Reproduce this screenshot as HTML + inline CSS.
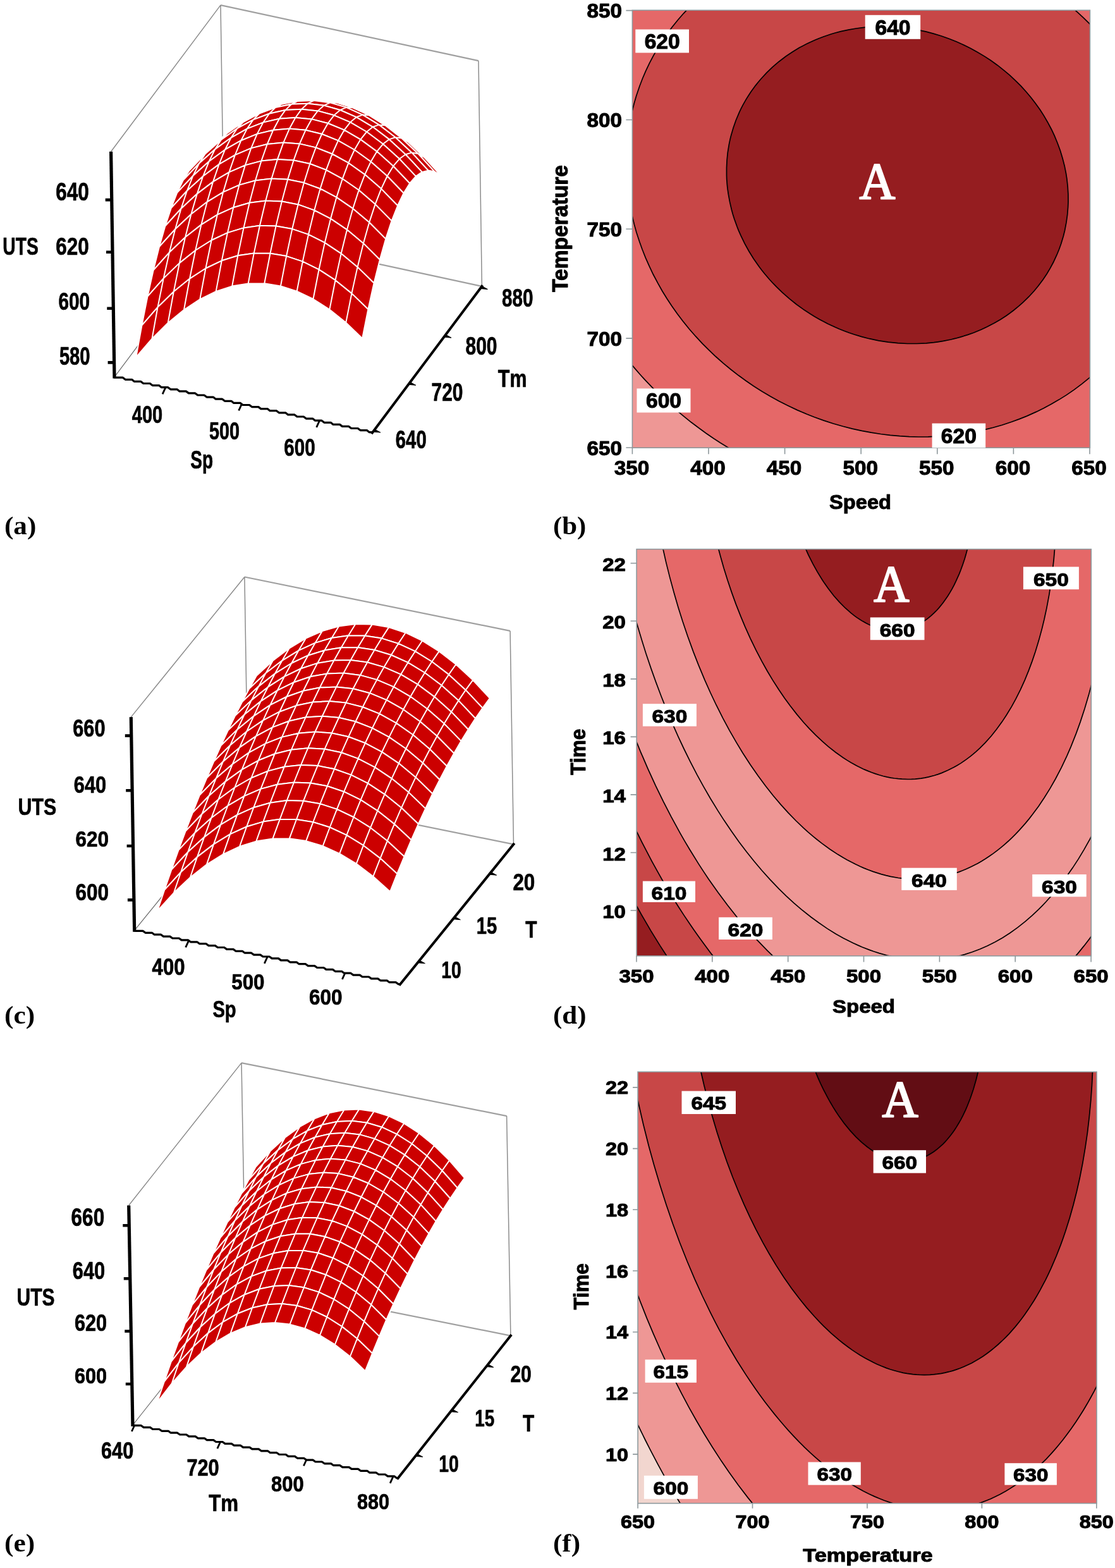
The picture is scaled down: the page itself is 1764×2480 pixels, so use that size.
<!DOCTYPE html>
<html lang="en"><head><meta charset="utf-8"><title>Figure</title>
<style>html,body{margin:0;padding:0;background:#fff}body{width:1764px;height:2480px;overflow:hidden}svg{display:block}</style>
</head><body>
<svg width="1764" height="2480" viewBox="0 0 1764 2480">
<rect width="1764" height="2480" fill="#fff"/>
<g id="panel-b">
<clipPath id="clipb"><rect x="1000.4" y="16.2" width="724" height="692"/></clipPath>
<g clip-path="url(#clipb)">
<rect x="1000.4" y="16.2" width="724" height="692" fill="#ee9795"/>
<path d="M994.4,10.2 1091.9,10.2 1081.4,21.3 1072.7,31.2 1063.4,42.8 1056.4,52.2 1048.1,64.2 1040.6,76.2 1033.7,88.2 1027.4,100.2 1021.7,112.2 1016.5,124.2 1011.9,136.2 1006.8,151.2 1003.3,163.2 999.5,178.2 996.5,193.2 994.4,205.7 994.4,10.2ZM1694.2,10.2 1732.4,10.2 1732.4,46.6 1723.3,37.2 1714.1,28.2 1704.4,19.2 1694.2,10.2ZM994.4,313.2 994.4,310.6 996.8,325.2 999.2,337.2 1002.7,352.2 1006,364.2 1009.4,375.4 1012.7,385.2 1017.1,397.2 1022,409.2 1027.3,421.2 1033,433.2 1039.2,445.2 1044.2,454.2 1051.3,466.2 1057,475.2 1063.4,484.8 1071.5,496.2 1078.4,505.4 1087.4,516.7 1095.5,526.2 1103.5,535.2 1112,544.2 1121,553.2 1130.4,562.2 1141.4,572 1151.1,580.2 1162.3,589.2 1171.4,596.1 1182.8,604.2 1192.4,610.7 1204.4,618.4 1215.8,625.2 1226.5,631.2 1243.4,640.1 1258.4,647.2 1276.4,655 1291.4,660.8 1309.4,667.1 1324.4,671.8 1340.6,676.2 1357.4,680.2 1372.4,683.2 1390.4,686.1 1408.4,688.4 1426.4,689.9 1444.4,690.8 1462.4,690.9 1480.4,690.4 1495.4,689.4 1510.4,687.9 1528.4,685.3 1545.7,682.2 1561.4,678.7 1579.4,673.9 1594.4,669.3 1609.4,664 1624.4,658.1 1639.4,651.4 1654.4,643.9 1666.8,637.2 1681.4,628.4 1695.4,619.2 1707.8,610.2 1720.4,600.2 1732.4,589.9 1732.4,715.2 1164.2,715.2 1150.4,707 1139.4,700.2 1129.4,693.7 1117,685.2 1105.4,676.8 1093.4,667.8 1081.4,658.2 1072.4,650.7 1060.4,640.2 1051.4,632 1041.1,622.2 1032.2,613.2 1021.4,601.9 1012.6,592.2 1003.4,581.6 994.4,570.7 994.4,313.2Z" fill="#e56868" fill-rule="evenodd" stroke="#e56868" stroke-width="0.6"/>
<path d="M1088.9,13.2 1091.9,10.2 1694.2,10.2 1704.4,19.2 1717.4,31.3 1732.4,46.6 1732.4,589.9 1726.4,595.2 1717.4,602.7 1702.4,614.2 1695.4,619.2 1686.4,625.2 1678.4,630.3 1669.4,635.7 1660.4,640.7 1651.4,645.5 1642.4,650 1633.4,654.1 1624.4,658.1 1615.4,661.7 1597.4,668.3 1579.4,673.9 1570.4,676.4 1558.4,679.4 1540.4,683.2 1529.3,685.2 1519.4,686.7 1501.4,688.8 1492.4,689.6 1480.4,690.4 1459.4,691 1438.4,690.6 1417.4,689.2 1396.4,687 1378.4,684.2 1357.4,680.2 1336.4,675.1 1327.4,672.6 1315.4,669 1303.4,665.1 1294.4,661.9 1276.4,655 1267.4,651.2 1256.2,646.2 1237.8,637.2 1219.4,627.3 1201.4,616.5 1183.4,604.6 1166.2,592.2 1150.4,579.7 1135.4,566.7 1121,553.2 1108.4,540.4 1095.5,526.2 1083,511.2 1071.5,496.2 1060.4,480.3 1049.5,463.2 1040.9,448.2 1033,433.2 1024.6,415.2 1018.3,400.2 1011.7,382.2 1006,364.2 1001.2,346.2 997.3,328.2 994.4,310.6 994.4,205.7 996.5,193.2 999.5,178.2 1003.3,163.2 1006.8,151.2 1009.8,142.2 1013,133.2 1016.5,124.2 1021.4,112.9 1025.9,103.2 1030.4,94.3 1035.3,85.2 1039.4,78.2 1044.3,70.2 1050.1,61.2 1056.4,52.2 1063.1,43.2 1069.4,35.2 1075.4,28.1 1081.4,21.3 1088.9,13.2ZM1369.4,43.2 1354.4,45 1342.4,47.1 1330.4,49.7 1315.4,53.8 1302.2,58.2 1288.4,63.7 1276.4,69.3 1264.4,75.6 1253.5,82.2 1243.4,89 1232.6,97.2 1222.1,106.2 1212.8,115.2 1204.4,124.2 1195.4,135.1 1188,145.2 1180.4,157.1 1175.3,166.2 1169.4,178.2 1164.3,190.2 1160.1,202.2 1156.6,214.2 1153.4,228.4 1151.3,241.2 1150.1,253.2 1149.5,265.2 1149.5,277.2 1150.4,292.2 1152.3,307.2 1154.5,319.2 1157.3,331.2 1161.7,346.2 1166,358.2 1168.4,364.3 1172.3,373.2 1178.1,385.2 1184.8,397.2 1192.2,409.2 1200.6,421.2 1209.9,433.2 1217.6,442.2 1228.4,453.7 1237.4,462.4 1248.5,472.2 1259.8,481.2 1270.4,488.9 1282.4,496.8 1294.4,504 1308,511.2 1320.6,517.2 1333.4,522.5 1345.4,527 1360.4,531.7 1373.5,535.2 1387.4,538.2 1402.4,540.7 1417.4,542.5 1432.4,543.4 1447.4,543.6 1462.4,543 1474.4,541.9 1489.4,539.9 1501.4,537.6 1513.4,534.8 1528.4,530.4 1540.4,526.2 1549.4,522.6 1561.2,517.2 1570.4,512.5 1582.4,505.6 1591.4,499.7 1600.4,493.3 1608.2,487.2 1615.4,481.1 1624.8,472.2 1633.4,463.2 1639.4,456.2 1645.7,448.2 1652.2,439.2 1658,430.2 1664.7,418.2 1669.4,408.8 1674.4,397.2 1678.4,386.3 1681.5,376.2 1684.4,365 1686.4,355.2 1688.2,343.2 1689.4,331.2 1689.9,322.2 1690,310.2 1689.4,298.2 1688.3,286.2 1686.5,274.2 1684.4,263.7 1681.9,253.2 1678.3,241.2 1675.3,232.2 1670.6,220.2 1666.4,210.7 1660.4,198.6 1654.4,187.9 1648.4,178.2 1642.4,169.2 1633.4,157.2 1626.1,148.2 1618.1,139.2 1609.4,130.2 1599.9,121.2 1591.4,113.8 1582.1,106.2 1570.4,97.6 1560.9,91.2 1551.3,85.2 1540.4,79 1528.4,72.8 1516.4,67.3 1504.4,62.4 1492.4,58 1480.4,54.2 1468.4,51 1456.4,48.2 1444.4,46 1432.4,44.2 1420.4,43 1405.4,42.1 1393.4,42 1381.4,42.3 1369.4,43.2Z" fill="#c84747" fill-rule="evenodd" stroke="#c84747" stroke-width="0.6"/>
<path d="M1369.2,43.2 1381.4,42.3 1393.4,42 1405.4,42.1 1417.4,42.7 1429.4,43.9 1441.4,45.5 1453.4,47.6 1465.4,50.2 1477.4,53.4 1489.4,57 1501.4,61.2 1513.4,66 1522.8,70.2 1535.1,76.2 1546.4,82.4 1558.4,89.6 1567.4,95.5 1578.1,103.2 1588.4,111.3 1597.4,118.9 1606.4,127.3 1615.3,136.2 1623.5,145.2 1631.1,154.2 1638,163.2 1645.4,173.6 1651.4,182.9 1657.4,193.2 1663.4,204.5 1668,214.2 1673,226.2 1677.4,238.2 1681,250.2 1684.1,262.2 1686.5,274.2 1687.9,283.2 1689.2,295.2 1689.9,307.2 1690,319.2 1689.6,328.2 1688.6,340.2 1686.9,352.2 1684.6,364.2 1682.4,373.2 1678.8,385.2 1675.6,394.2 1671.9,403.2 1666.4,415 1661.5,424.2 1656.1,433.2 1650.1,442.2 1642.4,452.5 1636,460.2 1627.8,469.2 1618.6,478.2 1611.8,484.2 1603.4,491 1592.2,499.2 1583,505.2 1573.4,510.8 1561.4,517.1 1552.4,521.3 1540.4,526.2 1531.4,529.4 1519.4,533.1 1504.4,537 1492.4,539.4 1477.4,541.6 1465.4,542.8 1450.4,543.5 1435.4,543.5 1420.4,542.7 1405.4,541.1 1390.4,538.8 1375.4,535.7 1363.4,532.6 1351.4,529 1336.4,523.7 1321.4,517.5 1309.4,511.9 1296.6,505.2 1282.4,496.8 1270.4,488.9 1259.8,481.2 1248.5,472.2 1237.4,462.4 1228.4,453.7 1217.6,442.2 1209.9,433.2 1200.6,421.2 1192.2,409.2 1184.8,397.2 1178.1,385.2 1172.3,373.2 1168.4,364.3 1166,358.2 1161.7,346.2 1157.3,331.2 1154.5,319.2 1152.3,307.2 1150.4,292.2 1149.5,277.2 1149.5,265.2 1150.1,253.2 1151.3,241.2 1153.4,228.4 1156.6,214.2 1160.1,202.2 1164.3,190.2 1169.4,178.2 1175.3,166.2 1180.4,157.1 1188,145.2 1195.4,135.1 1204.4,124.2 1212.8,115.2 1222.1,106.2 1232.6,97.2 1243.4,89 1253.5,82.2 1264.4,75.6 1276.4,69.3 1288.4,63.7 1302.2,58.2 1315.4,53.8 1330.4,49.7 1342.4,47.1 1354.4,45 1369.2,43.2Z" fill="#951d20" fill-rule="evenodd" stroke="#951d20" stroke-width="0.6"/>
<path d="M1164.2,715.2 1150.4,707 1139.4,700.2 1129.4,693.7 1117,685.2 1105.4,676.8 1093.4,667.8 1081.4,658.2 1072.4,650.7 1060.4,640.2 1051.4,632 1041.1,622.2 1032.2,613.2 1021.4,601.9 1012.6,592.2 1003.4,581.6 994.4,570.7" fill="none" stroke="#000" stroke-width="1.7"/>
<path d="M1694.2,10.2 1704.4,19.2 1714.1,28.2 1723.3,37.2 1732.4,46.6M994.4,205.7 996.5,193.2 999.5,178.2 1003.3,163.2 1006.8,151.2 1011.9,136.2 1016.5,124.2 1021.7,112.2 1027.4,100.2 1033.7,88.2 1040.6,76.2 1048.1,64.2 1056.4,52.2 1063.4,42.8 1072.7,31.2 1081.4,21.3 1091.9,10.2M1732.4,589.9 1722.8,598.2 1711.4,607.4 1699.4,616.4 1687.4,624.6 1675.4,632.1 1663.4,639.1 1651.4,645.5 1639.4,651.4 1624.4,658.1 1612.4,662.9 1600.4,667.3 1585.4,672.2 1571.3,676.2 1558.4,679.4 1543.4,682.7 1528.4,685.3 1513.4,687.5 1498.4,689.1 1483.4,690.2 1468.4,690.8 1453.4,691 1438.4,690.6 1423.4,689.7 1408.4,688.4 1393.4,686.5 1378.4,684.2 1363.4,681.4 1348.4,678.1 1333.4,674.3 1318.4,670 1303.4,665.1 1288.4,659.7 1276.4,655 1261.4,648.6 1246.4,641.5 1232,634.2 1219.4,627.3 1205.8,619.2 1192.4,610.7 1180.4,602.5 1168.4,593.8 1156.4,584.5 1144.4,574.6 1132.4,564 1121,553.2 1111.4,543.6 1100.8,532.2 1090.3,520.2 1080.6,508.2 1071.5,496.2 1063,484.2 1055.1,472.2 1047.7,460.2 1040.9,448.2 1033.4,434 1027.3,421.2 1021.4,407.9 1016,394.2 1011.7,382.2 1006.8,367.2 1003.4,354.9 999.8,340.2 996.8,325.2 994.4,310.6" fill="none" stroke="#000" stroke-width="1.7"/>
<path d="M1369.2,43.2 1381.4,42.3 1393.4,42 1405.4,42.1 1417.4,42.7 1429.4,43.9 1441.4,45.5 1453.4,47.6 1465.4,50.2 1477.4,53.4 1489.4,57 1501.4,61.2 1513.4,66 1522.8,70.2 1535.1,76.2 1546.4,82.4 1558.4,89.6 1567.4,95.5 1578.1,103.2 1588.4,111.3 1597.4,118.9 1606.4,127.3 1615.3,136.2 1623.5,145.2 1631.1,154.2 1638,163.2 1645.4,173.6 1651.4,182.9 1657.4,193.2 1663.4,204.5 1668,214.2 1673,226.2 1677.4,238.2 1681,250.2 1684.1,262.2 1686.5,274.2 1687.9,283.2 1689.2,295.2 1689.9,307.2 1690,319.2 1689.6,328.2 1688.6,340.2 1686.9,352.2 1684.6,364.2 1682.4,373.2 1678.8,385.2 1675.6,394.2 1671.9,403.2 1666.4,415 1661.5,424.2 1656.1,433.2 1650.1,442.2 1642.4,452.5 1636,460.2 1627.8,469.2 1618.6,478.2 1611.8,484.2 1603.4,491 1597.4,495.5 1592.2,499.2 1583,505.2 1573.4,510.8 1561.4,517.1 1552.4,521.3 1540.4,526.2 1531.4,529.4 1519.4,533.1 1511.8,535.2 1504.4,537 1492.4,539.4 1483.4,540.8 1477.4,541.6 1465.4,542.8 1450.4,543.5 1435.4,543.5 1420.4,542.7 1405.4,541.1 1390.4,538.8 1375.4,535.7 1363.4,532.6 1351.4,529 1343.2,526.2 1336.4,523.7 1327.6,520.2 1321.4,517.5 1309.4,511.9 1296.6,505.2 1288.4,500.5 1282.4,496.8 1270.4,488.9 1259.8,481.2 1248.5,472.2 1237.4,462.4 1228.4,453.7 1223.1,448.2 1217.6,442.2 1209.9,433.2 1205.1,427.2 1200.6,421.2 1192.2,409.2 1184.8,397.2 1178.1,385.2 1172.3,373.2 1168.4,364.3 1166,358.2 1161.7,346.2 1159.4,338.9 1157.3,331.2 1154.5,319.2 1152.3,307.2 1151,298.2 1150.4,292.2 1149.7,283.2 1149.5,277.2 1149.5,265.2 1150.1,253.2 1151.3,241.2 1153.4,228.4 1155.1,220.2 1156.6,214.2 1160.1,202.2 1164.3,190.2 1169.4,178.2 1172.2,172.2 1175.3,166.2 1180.4,157.1 1184.1,151.2 1188,145.2 1195.4,135.1 1199.3,130.2 1204.4,124.2 1212.8,115.2 1222.1,106.2 1232.6,97.2 1243.4,89 1253.5,82.2 1264.4,75.6 1276.4,69.3 1288.4,63.7 1294.4,61.2 1302.2,58.2 1315.4,53.8 1321.4,52 1330.4,49.7 1342.4,47.1 1354.4,45 1369.2,43.2" fill="none" stroke="#000" stroke-width="1.7"/>
</g>
<rect x="1000.4" y="16.2" width="724" height="692" fill="none" stroke="#8e989c" stroke-width="1.6"/>
<path d="M1000.4,708.2v10M1121,708.2v10M1241.6,708.2v10M1362.2,708.2v10M1482.8,708.2v10M1603.4,708.2v10M1724,708.2v10M1000.4,708h-10M1000.4,535.1h-10M1000.4,362.3h-10M1000.4,189.5h-10M1000.4,16.6h-10" stroke="#8e989c" stroke-width="1.6" fill="none"/>
<text transform="translate(999.4 750.5) scale(1.0400 1)" font-family='"Liberation Sans", sans-serif' font-size="32" font-weight="bold" text-anchor="middle" fill="#000" stroke="#000" stroke-width="1" stroke-linejoin="round">350</text>
<text transform="translate(1120 750.5) scale(1.0400 1)" font-family='"Liberation Sans", sans-serif' font-size="32" font-weight="bold" text-anchor="middle" fill="#000" stroke="#000" stroke-width="1" stroke-linejoin="round">400</text>
<text transform="translate(1240.6 750.5) scale(1.0400 1)" font-family='"Liberation Sans", sans-serif' font-size="32" font-weight="bold" text-anchor="middle" fill="#000" stroke="#000" stroke-width="1" stroke-linejoin="round">450</text>
<text transform="translate(1361.2 750.5) scale(1.0400 1)" font-family='"Liberation Sans", sans-serif' font-size="32" font-weight="bold" text-anchor="middle" fill="#000" stroke="#000" stroke-width="1" stroke-linejoin="round">500</text>
<text transform="translate(1481.8 750.5) scale(1.0400 1)" font-family='"Liberation Sans", sans-serif' font-size="32" font-weight="bold" text-anchor="middle" fill="#000" stroke="#000" stroke-width="1" stroke-linejoin="round">550</text>
<text transform="translate(1602.4 750.5) scale(1.0400 1)" font-family='"Liberation Sans", sans-serif' font-size="32" font-weight="bold" text-anchor="middle" fill="#000" stroke="#000" stroke-width="1" stroke-linejoin="round">600</text>
<text transform="translate(1723 750.5) scale(1.0400 1)" font-family='"Liberation Sans", sans-serif' font-size="32" font-weight="bold" text-anchor="middle" fill="#000" stroke="#000" stroke-width="1" stroke-linejoin="round">650</text>
<text transform="translate(984 719.5) scale(1.0400 1)" font-family='"Liberation Sans", sans-serif' font-size="32" font-weight="bold" text-anchor="end" fill="#000" stroke="#000" stroke-width="1" stroke-linejoin="round">650</text>
<text transform="translate(984 546.6) scale(1.0400 1)" font-family='"Liberation Sans", sans-serif' font-size="32" font-weight="bold" text-anchor="end" fill="#000" stroke="#000" stroke-width="1" stroke-linejoin="round">700</text>
<text transform="translate(984 373.8) scale(1.0400 1)" font-family='"Liberation Sans", sans-serif' font-size="32" font-weight="bold" text-anchor="end" fill="#000" stroke="#000" stroke-width="1" stroke-linejoin="round">750</text>
<text transform="translate(984 201) scale(1.0400 1)" font-family='"Liberation Sans", sans-serif' font-size="32" font-weight="bold" text-anchor="end" fill="#000" stroke="#000" stroke-width="1" stroke-linejoin="round">800</text>
<text transform="translate(984 28.1) scale(1.0400 1)" font-family='"Liberation Sans", sans-serif' font-size="32" font-weight="bold" text-anchor="end" fill="#000" stroke="#000" stroke-width="1" stroke-linejoin="round">850</text>
<text transform="translate(1361 805) scale(1.0200 1)" font-family='"Liberation Sans", sans-serif' font-size="32" font-weight="bold" text-anchor="middle" fill="#000" stroke="#000" stroke-width="1" stroke-linejoin="round">Speed</text>
<text transform="translate(897.5 361.5) rotate(-90) scale(0.9600 1)" font-family='"Liberation Sans", sans-serif' font-size="35" font-weight="bold" text-anchor="middle" fill="#000" stroke="#000" stroke-width="1" stroke-linejoin="round">Temperature</text>
<rect x="1005.3" y="46.5" width="84.7" height="37" fill="#fff"/>
<text transform="translate(1047.7 76.9) scale(1.0200 1)" font-family='"Liberation Sans", sans-serif' font-size="33" font-weight="bold" text-anchor="middle" fill="#000" stroke="#000" stroke-width="1" stroke-linejoin="round">620</text>
<rect x="1368.7" y="23.8" width="87.5" height="38" fill="#fff"/>
<text transform="translate(1412.5 54.7) scale(1.0200 1)" font-family='"Liberation Sans", sans-serif' font-size="33" font-weight="bold" text-anchor="middle" fill="#000" stroke="#000" stroke-width="1" stroke-linejoin="round">640</text>
<rect x="1007.5" y="614.5" width="85" height="38" fill="#fff"/>
<text transform="translate(1050 645.4) scale(1.0200 1)" font-family='"Liberation Sans", sans-serif' font-size="33" font-weight="bold" text-anchor="middle" fill="#000" stroke="#000" stroke-width="1" stroke-linejoin="round">600</text>
<rect x="1474.6" y="669.6" width="84.6" height="38.7" fill="#fff"/>
<text transform="translate(1516.9 700.9) scale(1.0200 1)" font-family='"Liberation Sans", sans-serif' font-size="33" font-weight="bold" text-anchor="middle" fill="#000" stroke="#000" stroke-width="1" stroke-linejoin="round">620</text>
<text transform="translate(1359.5 314) scale(0.9464 1)" font-family='"Liberation Serif", serif' font-size="83.3" font-weight="normal" text-anchor="start" fill="#fff" stroke="#fff" stroke-width="2.2" stroke-linejoin="round">A</text>
</g>
<g id="panel-d">
<clipPath id="clipd"><rect x="1007.1" y="868.6" width="719.2" height="643.3"/></clipPath>
<g clip-path="url(#clipd)">
<rect x="1007.1" y="868.6" width="719.2" height="643.3" fill="#951d20"/>
<path d="M1001.1,1303.6 1001.1,1302.5 1016.4,1333.6 1025.1,1350.5 1034.1,1367.3 1049.1,1394 1065,1420.6 1082.1,1447.6 1098.3,1471.6 1115.6,1495.6 1124.1,1506.9 1134,1519.6 1059.8,1519.6 1049.1,1503.3 1037.1,1484.2 1028.1,1469.4 1019.1,1454 1010.1,1438.2 1001.1,1421.9 1001.1,1303.6Z" fill="#c84747" fill-rule="evenodd" stroke="#c84747" stroke-width="0.6"/>
<path d="M1001.1,1159.6 1001.1,1158.7 1013.1,1188.3 1026.7,1219.6 1039.2,1246.6 1050.9,1270.6 1064.1,1296 1076.6,1318.6 1091.1,1343.5 1105.4,1366.6 1121.1,1390.4 1136,1411.6 1151.1,1431.8 1166.1,1450.7 1181.3,1468.6 1190.1,1478.5 1199.1,1488.2 1214.1,1503.6 1230.9,1519.6 1134,1519.6 1118.1,1499 1104.6,1480.6 1091.1,1461.1 1076.1,1438.4 1066.8,1423.6 1055.9,1405.6 1046.1,1388.8 1037.1,1372.8 1028.1,1356.2 1019.1,1338.9 1010.1,1321.1 1001.1,1302.5 1001.1,1159.6ZM1731.1,1474.6 1733.1,1471.7 1733.1,1519.6 1695.1,1519.6 1703.1,1510.5 1713,1498.6 1722.3,1486.6 1731.1,1474.6Z" fill="#e56868" fill-rule="evenodd" stroke="#e56868" stroke-width="0.6"/>
<path d="M1001.1,964.6 1001.1,963.1 1007.1,984.8 1013.1,1005.2 1020.1,1027.6 1027,1048.6 1034.1,1069 1040.1,1085.4 1047.8,1105.6 1055.1,1123.8 1062.6,1141.6 1070.5,1159.6 1079.1,1178.2 1088.1,1196.8 1097.1,1214.6 1106.1,1231.5 1115.1,1247.7 1124.9,1264.6 1136,1282.6 1145.1,1296.8 1155.7,1312.6 1166.1,1327.3 1175.2,1339.6 1187.1,1354.9 1196.7,1366.6 1208.1,1379.9 1217.8,1390.6 1229.2,1402.6 1241.1,1414.4 1253.1,1425.6 1265.1,1436.1 1275.5,1444.6 1286.1,1452.8 1298.1,1461.5 1313.1,1471.4 1328.1,1480.4 1343.1,1488.4 1358.1,1495.4 1373.1,1501.5 1388.1,1506.7 1403.1,1511 1418.1,1514.3 1433.1,1516.7 1448.1,1518.1 1463.1,1518.6 1478.1,1518.1 1493.1,1516.6 1502.1,1515.2 1508.1,1514 1514.1,1512.7 1523.1,1510.5 1532.1,1507.8 1538.1,1505.8 1547.1,1502.5 1553.1,1500.1 1562.1,1496 1568.1,1493.1 1574.8,1489.6 1583.1,1484.9 1595.1,1477.5 1607.8,1468.6 1615.7,1462.6 1622.1,1457.4 1634.1,1446.9 1646.1,1435.4 1658.1,1422.7 1670.1,1408.8 1682.1,1393.6 1692.9,1378.6 1703.1,1363.3 1713.9,1345.6 1724.1,1327.6 1733.1,1310.2 1733.1,1471.7 1724.1,1484.2 1715.1,1495.9 1705.6,1507.6 1695.1,1519.6 1230.9,1519.6 1214.1,1503.6 1199.1,1488.2 1184.1,1471.8 1169.1,1454.3 1154.1,1435.7 1139.1,1415.9 1124.1,1394.8 1111.2,1375.6 1097.8,1354.6 1085.1,1333.4 1071.5,1309.6 1058.1,1284.6 1046.1,1260.9 1034.1,1235.9 1022.1,1209.3 1011.1,1183.6 1001.1,1158.7 1001.1,964.6Z" fill="#ee9795" fill-rule="evenodd" stroke="#ee9795" stroke-width="0.6"/>
<path d="M1001.1,862.6 1047.7,862.6 1054.5,892.6 1061.1,918.7 1068,943.6 1076.1,970.6 1084.9,997.6 1094.1,1023.4 1103.1,1046.9 1113.7,1072.6 1124.4,1096.6 1136.1,1121 1148.1,1144.3 1159.9,1165.6 1172.1,1186.1 1184.1,1205 1196.1,1222.6 1202.6,1231.6 1211.1,1243 1221,1255.6 1232.1,1268.9 1244.1,1282.4 1255.8,1294.6 1265.1,1303.8 1277.1,1314.9 1289.1,1325.1 1301.1,1334.5 1313.1,1343.2 1325.1,1351.1 1337.1,1358.3 1349.1,1364.8 1361.1,1370.5 1373.1,1375.5 1385.1,1379.8 1397.1,1383.4 1403.1,1384.9 1412.1,1386.9 1424.1,1388.9 1433.1,1389.9 1439.1,1390.4 1451.1,1390.8 1458.6,1390.6 1466.1,1390.2 1478.1,1388.8 1485.7,1387.6 1493.1,1386.1 1505.1,1383 1511.1,1381.1 1518.3,1378.6 1526.1,1375.5 1532.1,1372.9 1544.1,1367 1555.3,1360.6 1562.1,1356.3 1568.1,1352.2 1580.1,1343.3 1591.6,1333.6 1601.1,1324.8 1613,1312.6 1622.1,1302.4 1633.2,1288.6 1643.1,1275.2 1652.1,1261.8 1661.5,1246.6 1670.1,1231.5 1679.4,1213.6 1687.9,1195.6 1694.4,1180.6 1702.7,1159.6 1709.2,1141.6 1716.1,1120.6 1722.3,1099.6 1727.9,1078.6 1733.1,1056.6 1733.1,1310.2 1727.1,1321.9 1719.1,1336.6 1712.1,1348.7 1704.8,1360.6 1697.1,1372.5 1688.7,1384.6 1682.1,1393.6 1673.1,1405.1 1662.6,1417.6 1652.1,1429.2 1640.1,1441.3 1630,1450.6 1619.1,1459.9 1607.1,1469.1 1595.1,1477.5 1583.1,1484.9 1571.1,1491.6 1559.1,1497.4 1547.1,1502.5 1535.1,1506.9 1523.1,1510.5 1511.1,1513.4 1499.1,1515.7 1492.8,1516.6 1484.1,1517.6 1472.1,1518.4 1460.1,1518.5 1448.1,1518.1 1433.1,1516.7 1418.1,1514.3 1406.1,1511.7 1391.1,1507.6 1379.1,1503.7 1365.6,1498.6 1352.1,1492.7 1339.7,1486.6 1325.1,1478.6 1313.1,1471.4 1299.8,1462.6 1286.1,1452.8 1274.1,1443.5 1261.1,1432.6 1247.1,1420.1 1232.1,1405.6 1220.1,1393.1 1208.1,1379.9 1194.2,1363.6 1181.1,1347.3 1169.1,1331.4 1157.1,1314.6 1145.1,1296.8 1133.1,1278 1121.1,1258.1 1109.4,1237.6 1099.7,1219.6 1089,1198.6 1078.8,1177.6 1067.1,1151.9 1056.3,1126.6 1046.1,1101.2 1036.5,1075.6 1027,1048.6 1018.2,1021.6 1009.9,994.6 1001.1,963.1 1001.1,862.6Z" fill="#ee9795" fill-rule="evenodd" stroke="#ee9795" stroke-width="0.6"/>
<path d="M1047.7,862.6 1135.2,862.6 1140,880.6 1145.1,898.6 1151.1,917.8 1157.8,937.6 1164.3,955.6 1172.1,975.4 1178.9,991.6 1187.1,1009.8 1196.1,1028.4 1205.1,1045.6 1214.1,1061.7 1222.4,1075.6 1232.1,1090.8 1241.1,1104 1250.1,1116.3 1260.5,1129.6 1271.1,1142.2 1280.1,1152.1 1290.4,1162.6 1301.1,1172.7 1310.2,1180.6 1322.1,1190 1334.1,1198.5 1346.1,1206 1355.1,1211 1367.1,1216.9 1379.1,1221.8 1391.1,1225.8 1403.1,1228.9 1415.1,1231 1427.1,1232.2 1436.1,1232.5 1445.1,1232.3 1454.1,1231.5 1463.1,1230.1 1472.1,1228.1 1481.1,1225.6 1490.1,1222.4 1499.1,1218.6 1508.1,1214.1 1517.1,1209 1526.1,1203 1532.2,1198.6 1541.1,1191.4 1549.8,1183.6 1556.1,1177.4 1564.2,1168.6 1571.9,1159.6 1581.1,1147.6 1586.1,1140.4 1591.3,1132.6 1600.4,1117.6 1608.5,1102.6 1616.1,1087.2 1623.8,1069.6 1630.8,1051.6 1637.1,1033.6 1643.1,1014.1 1648.4,994.6 1653.4,973.6 1657.6,952.6 1661.2,931.6 1664.6,907.6 1667.1,885.2 1669,862.6 1733.1,862.6 1733.1,1056.6 1729.4,1072.6 1725.6,1087.6 1721.5,1102.6 1717,1117.6 1712.1,1133.1 1707.1,1147.6 1702.7,1159.6 1697.1,1174 1691.1,1188.3 1685.1,1201.6 1679.1,1214.2 1673.1,1225.9 1666.7,1237.6 1659.7,1249.6 1652.3,1261.6 1646.1,1270.9 1637.8,1282.6 1630.9,1291.6 1622.1,1302.4 1613,1312.6 1604.1,1321.9 1595,1330.6 1584.6,1339.6 1574.1,1347.9 1565.1,1354.3 1555.3,1360.6 1544.8,1366.6 1535.1,1371.5 1526,1375.6 1514.1,1380.1 1505.1,1383 1493.1,1386.1 1484.1,1387.9 1472.1,1389.6 1463.1,1390.4 1451.1,1390.8 1442.1,1390.5 1430.1,1389.6 1418.1,1388 1406.1,1385.6 1394.1,1382.6 1382.1,1378.8 1373.1,1375.5 1361.1,1370.5 1349.1,1364.8 1337.1,1358.3 1325.8,1351.6 1316.1,1345.3 1304.1,1336.8 1292.2,1327.6 1281.4,1318.6 1271.1,1309.4 1261.8,1300.6 1250.1,1288.8 1238.8,1276.6 1229.1,1265.4 1220.1,1254.5 1209.2,1240.6 1199.1,1226.8 1190.1,1213.9 1181.1,1200.4 1172.1,1186.1 1163.1,1171.1 1154.1,1155.3 1145.1,1138.6 1136.1,1121 1128.6,1105.6 1121.1,1089.4 1113.7,1072.6 1106.1,1054.3 1099.1,1036.6 1092.4,1018.6 1085.1,998.1 1079.1,980 1073.1,960.9 1067.1,940.6 1061.4,919.6 1056.7,901.6 1052.1,882.4 1047.7,862.6Z" fill="#e56868" fill-rule="evenodd" stroke="#e56868" stroke-width="0.6"/>
<path d="M1135.2,862.6 1272.2,862.6 1278.9,877.6 1286.1,891.9 1293.2,904.6 1301.1,917.5 1310.1,930.6 1319.1,942.2 1328.1,952.4 1337.1,961.5 1346.1,969.4 1355.5,976.6 1364.8,982.6 1370.1,985.6 1376.1,988.5 1385.1,992.1 1394.1,994.8 1400.1,996 1406.1,996.8 1415.1,997.3 1424.1,996.7 1433.1,995.1 1442.1,992.5 1445.1,991.3 1451.2,988.6 1456.8,985.6 1460.1,983.6 1465.9,979.6 1469.1,977.2 1473.3,973.6 1478.1,969.2 1485.3,961.6 1492.6,952.6 1499.1,943.2 1506.1,931.6 1512.2,919.6 1517.6,907.6 1523.1,893 1528,877.6 1532,862.6 1669,862.6 1667.3,883.6 1665.3,901.6 1662.6,922.6 1659.8,940.6 1655.9,961.6 1652.1,979.3 1648.4,994.6 1643.5,1012.6 1638.1,1030.6 1633,1045.6 1627.4,1060.6 1621.3,1075.6 1614.5,1090.6 1607.1,1105.4 1600.4,1117.6 1592.1,1131.3 1585.3,1141.6 1576.6,1153.6 1568.1,1164.2 1558.8,1174.6 1550.1,1183.3 1539.7,1192.6 1529.1,1200.9 1520.1,1207.1 1509.1,1213.6 1499.1,1218.6 1489.6,1222.6 1484.1,1224.6 1478.1,1226.5 1469.1,1228.8 1463.1,1230.1 1457.1,1231.1 1448.1,1232.1 1442.1,1232.4 1436.1,1232.5 1427.1,1232.2 1415.1,1231 1403.1,1228.9 1391.1,1225.8 1379.1,1221.8 1367.1,1216.9 1355.1,1211 1346.1,1206 1334.1,1198.5 1322.1,1190 1310.2,1180.6 1301.1,1172.7 1290.4,1162.6 1280.1,1152.1 1271.1,1142.2 1260.5,1129.6 1250.1,1116.3 1241.1,1104 1232.1,1090.8 1222.4,1075.6 1214.1,1061.7 1205.1,1045.6 1196.1,1028.4 1187.1,1009.8 1178.9,991.6 1172.1,975.4 1164.3,955.6 1157.8,937.6 1151.1,917.8 1145.1,898.6 1140,880.6 1135.2,862.6Z" fill="#c84747" fill-rule="evenodd" stroke="#c84747" stroke-width="0.6"/>
<path d="M1272.2,862.6 1532,862.6 1528,877.6 1523.1,893 1517.6,907.6 1512.2,919.6 1506.1,931.6 1499.1,943.2 1492.6,952.6 1485.3,961.6 1478.1,969.2 1473.3,973.6 1469.1,977.2 1465.9,979.6 1460.1,983.6 1456.8,985.6 1451.2,988.6 1445.1,991.3 1442.1,992.5 1433.1,995.1 1424.1,996.7 1415.1,997.3 1406.1,996.8 1400.1,996 1394.1,994.8 1385.1,992.1 1376.1,988.5 1370.1,985.6 1364.8,982.6 1355.5,976.6 1346.1,969.4 1337.1,961.5 1328.1,952.4 1319.1,942.2 1310.1,930.6 1301.1,917.5 1293.2,904.6 1286.1,891.9 1278.9,877.6 1272.2,862.6Z" fill="#951d20" fill-rule="evenodd" stroke="#951d20" stroke-width="0.6"/>
<path d="M1059.8,1519.6 1044.2,1495.6 1029.4,1471.6 1015.4,1447.6 1001.1,1421.9" fill="none" stroke="#000" stroke-width="1.7"/>
<path d="M1134,1519.6 1124.1,1506.9 1115.6,1495.6 1106.1,1482.6 1098.3,1471.6 1091.1,1461.1 1082.1,1447.6 1073.1,1433.7 1064.1,1419.2 1055.1,1404.3 1047.1,1390.6 1040.1,1378.2 1031.1,1361.8 1016.1,1333.1 1008.9,1318.6 1001.1,1302.5" fill="none" stroke="#000" stroke-width="1.7"/>
<path d="M1733.1,1471.7 1724.1,1484.2 1715.1,1495.9 1705.6,1507.6 1695.1,1519.6M1230.9,1519.6 1223.1,1512.3 1214.1,1503.6 1199.1,1488.2 1190.1,1478.5 1181.3,1468.6 1166.1,1450.7 1151.1,1431.8 1136,1411.6 1121.1,1390.4 1113.2,1378.6 1105.4,1366.6 1091.1,1343.5 1083.4,1330.6 1076.1,1317.8 1061.8,1291.6 1049.4,1267.6 1037.1,1242.3 1025.1,1216.1 1013.1,1188.3 1001.1,1158.7" fill="none" stroke="#000" stroke-width="1.7"/>
<path d="M1733.1,1310.2 1724.1,1327.6 1715.1,1343.6 1706.1,1358.6 1697,1372.6 1686.5,1387.6 1676.1,1401.4 1665.2,1414.6 1655.1,1426 1649.1,1432.3 1643.1,1438.4 1633.3,1447.6 1622.1,1457.4 1610.1,1466.9 1598.1,1475.5 1586.1,1483.2 1574.1,1490 1562.1,1496 1550.1,1501.3 1538.1,1505.8 1526.1,1509.6 1520.1,1511.3 1511.1,1513.4 1499.1,1515.7 1492.8,1516.6 1484.1,1517.6 1472.1,1518.4 1466.1,1518.5 1457.1,1518.5 1445.1,1517.9 1436.1,1517 1430.1,1516.3 1424.1,1515.3 1415.1,1513.7 1403.1,1511 1391,1507.6 1382.1,1504.8 1376.1,1502.6 1364.1,1498 1358.1,1495.4 1349.1,1491.3 1340.1,1486.8 1334.1,1483.7 1322.1,1476.9 1308.7,1468.6 1295.1,1459.3 1283.1,1450.5 1268.1,1438.6 1256.1,1428.3 1244.1,1417.3 1232.1,1405.6 1217.8,1390.6 1205.1,1376.5 1193.1,1362.3 1181.1,1347.3 1169.1,1331.4 1157.1,1314.6 1145.6,1297.6 1136,1282.6 1124.1,1263.2 1112.8,1243.6 1102.9,1225.6 1092,1204.6 1082.1,1184.5 1073.1,1165.3 1063.9,1144.6 1055,1123.6 1046.1,1101.2 1037.6,1078.6 1030.1,1057.6 1022.1,1033.9 1015.4,1012.6 1008.2,988.6 1001.1,963.1" fill="none" stroke="#000" stroke-width="1.7"/>
<path d="M1733.1,1056.6 1727.9,1078.6 1722.3,1099.6 1716.1,1120.6 1709.2,1141.6 1702.7,1159.6 1694.4,1180.6 1687.9,1195.6 1679.4,1213.6 1670.1,1231.5 1661.5,1246.6 1652.1,1261.8 1643.1,1275.2 1633.2,1288.6 1628.1,1295.1 1622.1,1302.4 1613,1312.6 1607.1,1318.9 1601.1,1324.8 1595.1,1330.5 1589.1,1335.8 1583.1,1340.9 1577.1,1345.6 1571.1,1350.1 1565.1,1354.3 1559.1,1358.2 1553.1,1361.9 1547.1,1365.4 1541.1,1368.6 1535.1,1371.5 1529.1,1374.3 1523.1,1376.8 1517.1,1379.1 1509.6,1381.6 1502.1,1383.8 1490.1,1386.7 1484.1,1387.9 1475.1,1389.2 1463.1,1390.4 1457.1,1390.7 1448.1,1390.7 1436.1,1390.2 1430.1,1389.6 1421.1,1388.5 1409.1,1386.3 1401.7,1384.6 1394.1,1382.6 1381.5,1378.6 1373.1,1375.5 1367.1,1373.1 1361.1,1370.5 1352.8,1366.6 1340.1,1360 1334.1,1356.6 1325.8,1351.6 1313.1,1343.2 1299.9,1333.6 1292.1,1327.5 1286.1,1322.6 1277.9,1315.6 1271.3,1309.6 1259.1,1298 1247.1,1285.6 1235.1,1272.4 1223.1,1258.2 1211.1,1243 1199.1,1226.8 1187.1,1209.5 1175.1,1191 1165.2,1174.6 1154.1,1155.3 1143.5,1135.6 1133.1,1115 1124.1,1096 1115,1075.6 1105,1051.6 1096.8,1030.6 1088.1,1006.7 1079.9,982.6 1073.1,960.9 1066.3,937.6 1059.8,913.6 1053.8,889.6 1047.7,862.6" fill="none" stroke="#000" stroke-width="1.7"/>
<path d="M1669,862.6 1667.3,883.6 1665.3,901.6 1662.6,922.6 1659.8,940.6 1655.9,961.6 1652.1,979.3 1648.4,994.6 1643.5,1012.6 1638.1,1030.6 1633,1045.6 1627.4,1060.6 1621.3,1075.6 1614.5,1090.6 1607.1,1105.4 1600.4,1117.6 1592.1,1131.3 1585.3,1141.6 1576.6,1153.6 1568.1,1164.2 1558.8,1174.6 1550.1,1183.3 1544.1,1188.8 1539.7,1192.6 1535.1,1196.3 1529.1,1200.9 1520.1,1207.1 1514.1,1210.8 1509.1,1213.6 1499.1,1218.6 1489.6,1222.6 1484.1,1224.6 1478.1,1226.5 1469.1,1228.8 1463.1,1230.1 1457.1,1231.1 1448.1,1232.1 1442.1,1232.4 1436.1,1232.5 1427.1,1232.2 1421.1,1231.7 1415.1,1231 1409.1,1230.1 1403.1,1228.9 1397.1,1227.5 1391.1,1225.8 1385.1,1223.9 1379.1,1221.8 1373.1,1219.4 1367.1,1216.9 1361.1,1214.1 1355.1,1211 1346.1,1206 1340.1,1202.4 1334.1,1198.5 1322.1,1190 1310.2,1180.6 1301.1,1172.7 1290.4,1162.6 1280.1,1152.1 1271.1,1142.2 1260.5,1129.6 1250.1,1116.3 1241.1,1104 1232.1,1090.8 1222.4,1075.6 1214.1,1061.7 1205.1,1045.6 1196.1,1028.4 1187.1,1009.8 1178.9,991.6 1172.1,975.4 1164.3,955.6 1157.8,937.6 1151.1,917.8 1145.1,898.6 1140,880.6 1135.2,862.6" fill="none" stroke="#000" stroke-width="1.7"/>
<path d="M1532,862.6 1528,877.6 1526.1,884 1523.1,893 1520.1,901.3 1517.6,907.6 1512.2,919.6 1509.3,925.6 1506.1,931.6 1502.6,937.6 1499.1,943.2 1492.6,952.6 1490.1,955.8 1485.3,961.6 1481.1,966.2 1478.1,969.2 1473.3,973.6 1469.1,977.2 1465.9,979.6 1460.1,983.6 1456.8,985.6 1451.2,988.6 1445.1,991.3 1442.1,992.5 1436.1,994.4 1433.1,995.1 1430.1,995.8 1424.1,996.7 1421.1,997 1415.1,997.3 1412.1,997.2 1406.1,996.8 1400.1,996 1394.1,994.8 1385.1,992.1 1376.1,988.5 1370.1,985.6 1364.8,982.6 1361.1,980.3 1355.5,976.6 1351.4,973.6 1346.1,969.4 1337.1,961.5 1328.1,952.4 1319.1,942.2 1310.1,930.6 1304.5,922.6 1301.1,917.5 1293.2,904.6 1286.1,891.9 1278.9,877.6 1272.2,862.6" fill="none" stroke="#000" stroke-width="1.7"/>
</g>
<rect x="1007.1" y="868.6" width="719.2" height="643.3" fill="none" stroke="#8e989c" stroke-width="1.6"/>
<path d="M1007,1511.9v9.5M1126.8,1511.9v9.5M1246.7,1511.9v9.5M1366.5,1511.9v9.5M1486.4,1511.9v9.5M1606.2,1511.9v9.5M1726.1,1511.9v9.5M1007.1,1440h-9.5M1007.1,1348.5h-9.5M1007.1,1256.9h-9.5M1007.1,1165.4h-9.5M1007.1,1073.9h-9.5M1007.1,982.3h-9.5M1007.1,890.8h-9.5" stroke="#8e989c" stroke-width="1.6" fill="none"/>
<text transform="translate(1007 1553.5) scale(1.1400 1)" font-family='"Liberation Sans", sans-serif' font-size="29" font-weight="bold" text-anchor="middle" fill="#000" stroke="#000" stroke-width="1" stroke-linejoin="round">350</text>
<text transform="translate(1126.8 1553.5) scale(1.1400 1)" font-family='"Liberation Sans", sans-serif' font-size="29" font-weight="bold" text-anchor="middle" fill="#000" stroke="#000" stroke-width="1" stroke-linejoin="round">400</text>
<text transform="translate(1246.7 1553.5) scale(1.1400 1)" font-family='"Liberation Sans", sans-serif' font-size="29" font-weight="bold" text-anchor="middle" fill="#000" stroke="#000" stroke-width="1" stroke-linejoin="round">450</text>
<text transform="translate(1366.5 1553.5) scale(1.1400 1)" font-family='"Liberation Sans", sans-serif' font-size="29" font-weight="bold" text-anchor="middle" fill="#000" stroke="#000" stroke-width="1" stroke-linejoin="round">500</text>
<text transform="translate(1486.4 1553.5) scale(1.1400 1)" font-family='"Liberation Sans", sans-serif' font-size="29" font-weight="bold" text-anchor="middle" fill="#000" stroke="#000" stroke-width="1" stroke-linejoin="round">550</text>
<text transform="translate(1606.2 1553.5) scale(1.1400 1)" font-family='"Liberation Sans", sans-serif' font-size="29" font-weight="bold" text-anchor="middle" fill="#000" stroke="#000" stroke-width="1" stroke-linejoin="round">600</text>
<text transform="translate(1726.1 1553.5) scale(1.1400 1)" font-family='"Liberation Sans", sans-serif' font-size="29" font-weight="bold" text-anchor="middle" fill="#000" stroke="#000" stroke-width="1" stroke-linejoin="round">650</text>
<text transform="translate(990 1452) scale(1.1400 1)" font-family='"Liberation Sans", sans-serif' font-size="29" font-weight="bold" text-anchor="end" fill="#000" stroke="#000" stroke-width="1" stroke-linejoin="round">10</text>
<text transform="translate(990 1360.5) scale(1.1400 1)" font-family='"Liberation Sans", sans-serif' font-size="29" font-weight="bold" text-anchor="end" fill="#000" stroke="#000" stroke-width="1" stroke-linejoin="round">12</text>
<text transform="translate(990 1268.9) scale(1.1400 1)" font-family='"Liberation Sans", sans-serif' font-size="29" font-weight="bold" text-anchor="end" fill="#000" stroke="#000" stroke-width="1" stroke-linejoin="round">14</text>
<text transform="translate(990 1177.4) scale(1.1400 1)" font-family='"Liberation Sans", sans-serif' font-size="29" font-weight="bold" text-anchor="end" fill="#000" stroke="#000" stroke-width="1" stroke-linejoin="round">16</text>
<text transform="translate(990 1085.9) scale(1.1400 1)" font-family='"Liberation Sans", sans-serif' font-size="29" font-weight="bold" text-anchor="end" fill="#000" stroke="#000" stroke-width="1" stroke-linejoin="round">18</text>
<text transform="translate(990 994.3) scale(1.1400 1)" font-family='"Liberation Sans", sans-serif' font-size="29" font-weight="bold" text-anchor="end" fill="#000" stroke="#000" stroke-width="1" stroke-linejoin="round">20</text>
<text transform="translate(990 902.8) scale(1.1400 1)" font-family='"Liberation Sans", sans-serif' font-size="29" font-weight="bold" text-anchor="end" fill="#000" stroke="#000" stroke-width="1" stroke-linejoin="round">22</text>
<text transform="translate(1366.5 1602) scale(1.1000 1)" font-family='"Liberation Sans", sans-serif' font-size="30" font-weight="bold" text-anchor="middle" fill="#000" stroke="#000" stroke-width="1" stroke-linejoin="round">Speed</text>
<text transform="translate(926 1189.2) rotate(-90) scale(0.9550 1)" font-family='"Liberation Sans", sans-serif' font-size="33" font-weight="bold" text-anchor="middle" fill="#000" stroke="#000" stroke-width="1" stroke-linejoin="round">Time</text>
<rect x="1016.9" y="1113.2" width="85" height="35.5" fill="#fff"/>
<text transform="translate(1059.4 1143.4) scale(1.1300 1)" font-family='"Liberation Sans", sans-serif' font-size="29.7" font-weight="bold" text-anchor="middle" fill="#000" stroke="#000" stroke-width="1" stroke-linejoin="round">630</text>
<rect x="1016.9" y="1393.6" width="83.1" height="33.3" fill="#fff"/>
<text transform="translate(1058.5 1422.7) scale(1.1300 1)" font-family='"Liberation Sans", sans-serif' font-size="29.7" font-weight="bold" text-anchor="middle" fill="#000" stroke="#000" stroke-width="1" stroke-linejoin="round">610</text>
<rect x="1137.1" y="1450.8" width="84.8" height="35.2" fill="#fff"/>
<text transform="translate(1179.5 1480.8) scale(1.1300 1)" font-family='"Liberation Sans", sans-serif' font-size="29.7" font-weight="bold" text-anchor="middle" fill="#000" stroke="#000" stroke-width="1" stroke-linejoin="round">620</text>
<rect x="1618.9" y="896.5" width="88" height="35.7" fill="#fff"/>
<text transform="translate(1662.9 926.8) scale(1.1300 1)" font-family='"Liberation Sans", sans-serif' font-size="29.7" font-weight="bold" text-anchor="middle" fill="#000" stroke="#000" stroke-width="1" stroke-linejoin="round">650</text>
<rect x="1376.8" y="976.5" width="85.7" height="35.7" fill="#fff"/>
<text transform="translate(1419.7 1006.8) scale(1.1300 1)" font-family='"Liberation Sans", sans-serif' font-size="29.7" font-weight="bold" text-anchor="middle" fill="#000" stroke="#000" stroke-width="1" stroke-linejoin="round">660</text>
<rect x="1426.3" y="1372.7" width="87.5" height="35.2" fill="#fff"/>
<text transform="translate(1470 1402.7) scale(1.1300 1)" font-family='"Liberation Sans", sans-serif' font-size="29.7" font-weight="bold" text-anchor="middle" fill="#000" stroke="#000" stroke-width="1" stroke-linejoin="round">640</text>
<rect x="1633.2" y="1383" width="85.5" height="35.3" fill="#fff"/>
<text transform="translate(1676 1413.1) scale(1.1300 1)" font-family='"Liberation Sans", sans-serif' font-size="29.7" font-weight="bold" text-anchor="middle" fill="#000" stroke="#000" stroke-width="1" stroke-linejoin="round">630</text>
<text transform="translate(1382.3 950.8) scale(0.9500 1)" font-family='"Liberation Serif", serif' font-size="82.1" font-weight="normal" text-anchor="start" fill="#fff" stroke="#fff" stroke-width="2.2" stroke-linejoin="round">A</text>
</g>
<g id="panel-f">
<clipPath id="clipf"><rect x="1009.1" y="1695.3" width="725.9" height="682.4"/></clipPath>
<g clip-path="url(#clipf)">
<rect x="1009.1" y="1695.3" width="725.9" height="682.4" fill="#f2d6cf"/>
<path d="M1003.1,2034.3 1003.1,2032.7 1013.9,2061.3 1024.7,2088.3 1036.1,2115.2 1048.1,2142.1 1059.5,2166.3 1069.8,2187.3 1081.1,2209.3 1093.1,2231.5 1105.1,2252.7 1117.9,2274.3 1131.1,2295.3 1144.1,2315.1 1156.1,2332.4 1170.6,2352.3 1183.1,2368.6 1196.6,2385.3 1080.7,2385.3 1063.1,2356 1048.1,2329.4 1036.1,2307.2 1024.1,2284 1013.4,2262.3 1003.1,2240.8 1003.1,2034.3Z" fill="#ee9795" fill-rule="evenodd" stroke="#ee9795" stroke-width="0.6"/>
<path d="M1003.1,1713.3 1003.1,1711.6 1010.4,1746.3 1018,1779.3 1026.3,1812.3 1035.4,1845.3 1045.1,1877.7 1054.1,1905.7 1064.3,1935.3 1075.4,1965.3 1087.1,1994.8 1099.1,2023.1 1111.1,2049.5 1124.1,2076.3 1138,2103.3 1151.3,2127.3 1165.1,2150.7 1180.1,2174.4 1195.1,2196.6 1210.1,2217.2 1225.1,2236.4 1240.1,2254.3 1255.5,2271.3 1264.1,2280.3 1273.1,2289.3 1282.1,2297.8 1289.3,2304.3 1297.1,2311.1 1306.1,2318.5 1315.1,2325.6 1322.8,2331.3 1330.1,2336.5 1339.1,2342.5 1348.1,2348.2 1357.1,2353.5 1366.1,2358.4 1375.1,2362.9 1384.1,2367.1 1391.6,2370.3 1399.1,2373.2 1408.1,2376.4 1417.1,2379.3 1426.1,2381.8 1435.1,2383.9 1442.4,2385.3 1196.6,2385.3 1180.1,2364.7 1165.1,2344.9 1150.1,2323.8 1135.1,2301.5 1126.1,2287.5 1117.1,2272.9 1108.1,2257.9 1099.1,2242.3 1090.1,2226.1 1081.1,2209.3 1072.1,2191.9 1063.8,2175.3 1048.1,2142.1 1040.1,2124.3 1032.3,2106.3 1024.7,2088.3 1017.5,2070.3 1010.5,2052.3 1003.1,2032.7 1003.1,1713.3ZM1740.7,2181.3 1741.1,2180.5 1741.1,2385.3 1519.8,2385.3 1528.1,2383.6 1537.1,2381.3 1544,2379.3 1552.1,2376.6 1560.8,2373.3 1567.1,2370.7 1574.4,2367.3 1582.1,2363.4 1591.1,2358.5 1597.1,2354.9 1605.8,2349.3 1612.1,2344.9 1618.4,2340.3 1627.1,2333.5 1633.3,2328.3 1642.1,2320.4 1648.1,2314.7 1655.5,2307.3 1663.1,2299.1 1669.1,2292.4 1681.6,2277.3 1688.4,2268.3 1695,2259.3 1701.2,2250.3 1707.1,2241.3 1718.2,2223.3 1729.1,2204 1735.1,2192.5 1740.7,2181.3Z" fill="#e56868" fill-rule="evenodd" stroke="#e56868" stroke-width="0.6"/>
<path d="M1003.1,1689.3 1107.6,1689.3 1113.8,1716.3 1120.1,1741.1 1126.5,1764.3 1134.5,1791.3 1142.3,1815.3 1150.1,1837.7 1159.1,1861.7 1168.1,1884 1177.1,1904.9 1186.1,1924.4 1195.9,1944.3 1207.1,1965.6 1217.1,1983.3 1228.1,2001.6 1240.1,2020.2 1252.1,2037.4 1264.1,2053.3 1276.1,2068.1 1288.6,2082.3 1297.1,2091.3 1303,2097.3 1315.1,2108.8 1327.1,2119.2 1333.1,2124 1341.4,2130.3 1354.1,2139.1 1360.1,2143 1369.1,2148.3 1381.1,2154.6 1393.7,2160.3 1402.1,2163.6 1408.1,2165.7 1420.5,2169.3 1429.1,2171.3 1435.1,2172.4 1444.1,2173.6 1450.1,2174.2 1462.1,2174.6 1471.1,2174.4 1477.1,2173.9 1489.1,2172.3 1501.1,2169.7 1513.1,2166.1 1519.1,2164 1525.1,2161.5 1531.1,2158.8 1537.1,2155.9 1543.1,2152.6 1549.1,2149 1555.1,2145.2 1561.1,2141 1571.2,2133.3 1582.1,2123.8 1588.1,2118.1 1593.8,2112.3 1603.1,2102.1 1609.1,2095 1614.4,2088.3 1624.1,2075 1633.1,2061.5 1642.1,2046.6 1650.5,2031.3 1657.1,2018.2 1664.9,2001.3 1672.1,1984.4 1678.3,1968.3 1684.7,1950.3 1690.5,1932.3 1696.1,1913 1702.1,1890 1708.2,1863.3 1711.2,1848.3 1713.9,1833.3 1718.3,1806.3 1721.9,1779.3 1725,1749.3 1727.3,1719.3 1728.8,1689.3 1741.1,1689.3 1741.1,2180.5 1732.1,2198.3 1723.1,2214.8 1714.1,2230.2 1703.2,2247.3 1693.1,2261.9 1681.6,2277.3 1671.7,2289.3 1660.1,2302.4 1648.1,2314.7 1636.1,2325.8 1624.1,2335.9 1612.1,2344.9 1600.1,2353 1591.4,2358.3 1585.1,2361.8 1573.1,2367.9 1567.1,2370.7 1558.1,2374.4 1549.1,2377.6 1540.1,2380.5 1531.1,2382.9 1519.8,2385.3 1442.4,2385.3 1432.1,2383.2 1423.1,2381 1414.1,2378.4 1402.1,2374.3 1391.6,2370.3 1381.1,2365.7 1371.8,2361.3 1360.1,2355.1 1350,2349.3 1339.1,2342.5 1330.1,2336.5 1318.7,2328.3 1309.1,2320.9 1300.1,2313.6 1289.3,2304.3 1279.4,2295.3 1267.1,2283.3 1255.1,2270.9 1243.1,2257.7 1231.1,2243.7 1219.1,2228.9 1207.9,2214.3 1197,2199.3 1186.1,2183.5 1174.9,2166.3 1165.1,2150.7 1154.8,2133.3 1144.1,2114.5 1134.8,2097.3 1124.1,2076.3 1114.1,2055.9 1105.5,2037.3 1096.1,2016.2 1087.1,1994.8 1078.1,1972.3 1069.8,1950.3 1062.2,1929.3 1054,1905.3 1046.2,1881.3 1038.9,1857.3 1030.4,1827.3 1022.5,1797.3 1015.1,1767.1 1007.8,1734.3 1003.1,1711.6 1003.1,1689.3Z" fill="#c84747" fill-rule="evenodd" stroke="#c84747" stroke-width="0.6"/>
<path d="M1107.6,1689.3 1287.8,1689.3 1294.1,1704.6 1302.3,1722.3 1309.1,1735.4 1318.1,1751.1 1327.1,1765.1 1336.1,1777.4 1345.1,1788.4 1354.1,1798.1 1363.1,1806.7 1372.1,1814 1378.1,1818.4 1382.6,1821.3 1387.1,1824 1393.1,1827.1 1402.1,1831 1408.1,1833 1414.1,1834.6 1423.1,1836.1 1432.1,1836.6 1437.8,1836.3 1441.1,1836 1447.1,1834.9 1450.1,1834.2 1453.4,1833.3 1459.1,1831.3 1462.1,1830.1 1468.1,1827.2 1473.1,1824.3 1477.1,1821.7 1481.7,1818.3 1486.1,1814.7 1492,1809.3 1495.1,1806.1 1502.7,1797.3 1507.1,1791.5 1510.1,1787.2 1516.9,1776.3 1523.4,1764.3 1527.7,1755.3 1530.3,1749.3 1535,1737.3 1540.1,1722.3 1544.4,1707.3 1548.7,1689.3 1728.8,1689.3 1727.1,1722.3 1724.7,1752.3 1721.5,1782.3 1717.4,1812.3 1715,1827.3 1712.3,1842.3 1706.9,1869.3 1700.5,1896.3 1696.6,1911.3 1693.1,1923.6 1689.5,1935.3 1684.7,1950.3 1680.5,1962.3 1676,1974.3 1671.3,1986.3 1666.3,1998.3 1660.9,2010.3 1656.6,2019.3 1651.1,2030.1 1645.1,2041.3 1639.1,2051.7 1633.2,2061.3 1627.1,2070.6 1621.1,2079.3 1615.1,2087.4 1609.1,2095 1602.1,2103.3 1594.1,2112 1587.9,2118.3 1579.1,2126.5 1571.2,2133.3 1563.4,2139.3 1555.1,2145.2 1546.1,2150.9 1540,2154.3 1531.1,2158.8 1522.1,2162.8 1513.1,2166.1 1504.1,2168.9 1495.1,2171.1 1486.1,2172.8 1477.1,2173.9 1468.1,2174.5 1459.1,2174.6 1450.1,2174.2 1441.1,2173.3 1432.1,2171.8 1420.5,2169.3 1411.1,2166.6 1402.1,2163.6 1393.1,2160.1 1384.1,2156.1 1375.1,2151.6 1366.1,2146.6 1357.1,2141.1 1348.1,2135.1 1339.1,2128.6 1330.1,2121.6 1321.1,2114.1 1312.1,2106 1303.1,2097.4 1294.1,2088.2 1285.1,2078.5 1276.1,2068.1 1268.1,2058.3 1261.1,2049.4 1252.1,2037.4 1243.6,2025.3 1235.6,2013.3 1228.1,2001.6 1220.6,1989.3 1213.1,1976.4 1205.3,1962.3 1198.1,1948.7 1191.4,1935.3 1184.2,1920.3 1177.3,1905.3 1171.1,1891.1 1165.1,1876.8 1158.6,1860.3 1152.9,1845.3 1146.4,1827.3 1141.1,1811.7 1135.5,1794.3 1130,1776.3 1125.6,1761.3 1120.7,1743.3 1116.1,1725.3 1111.7,1707.3 1107.6,1689.3Z" fill="#951d20" fill-rule="evenodd" stroke="#951d20" stroke-width="0.6"/>
<path d="M1287.8,1689.3 1548.7,1689.3 1544.4,1707.3 1540.1,1722.3 1535,1737.3 1530.3,1749.3 1527.7,1755.3 1523.4,1764.3 1516.9,1776.3 1510.1,1787.2 1507.1,1791.5 1502.7,1797.3 1495.1,1806.1 1492,1809.3 1486.1,1814.7 1481.7,1818.3 1477.1,1821.7 1473.1,1824.3 1468.1,1827.2 1462.1,1830.1 1459.1,1831.3 1453.4,1833.3 1450.1,1834.2 1447.1,1834.9 1441.1,1836 1437.8,1836.3 1432.1,1836.6 1423.1,1836.1 1414.1,1834.6 1408.1,1833 1402.1,1831 1393.1,1827.1 1387.1,1824 1382.6,1821.3 1378.1,1818.4 1372.1,1814 1363.1,1806.7 1354.1,1798.1 1345.1,1788.4 1336.1,1777.4 1327.1,1765.1 1318.1,1751.1 1309.1,1735.4 1302.3,1722.3 1294.1,1704.6 1287.8,1689.3Z" fill="#620d14" fill-rule="evenodd" stroke="#620d14" stroke-width="0.6"/>
<path d="M1080.7,2385.3 1069.8,2367.3 1060.1,2350.8 1051.1,2334.9 1041,2316.3 1030.1,2295.7 1021.1,2278 1012.1,2259.7 1003.1,2240.8" fill="none" stroke="#000" stroke-width="1.7"/>
<path d="M1196.6,2385.3 1183.1,2368.6 1168.1,2349 1153.2,2328.3 1141.1,2310.6 1127.3,2289.3 1114.3,2268.3 1102.1,2247.5 1090.2,2226.3 1078.1,2203.6 1066.8,2181.3 1056.6,2160.3 1045.1,2135.5 1033.6,2109.3 1023.5,2085.3 1012.8,2058.3 1003.1,2032.7" fill="none" stroke="#000" stroke-width="1.7"/>
<path d="M1741.1,2180.5 1731.6,2199.3 1726.1,2209.5 1720,2220.3 1714.1,2230.2 1708.1,2239.8 1702.1,2249 1695,2259.3 1688.4,2268.3 1681.6,2277.3 1675.1,2285.3 1669.1,2292.4 1663.1,2299.1 1655.5,2307.3 1648.1,2314.7 1642.1,2320.4 1633.3,2328.3 1627.1,2333.5 1618.4,2340.3 1612.1,2344.9 1605.8,2349.3 1597.1,2354.9 1591.1,2358.5 1582.1,2363.4 1574.4,2367.3 1567.1,2370.7 1560.8,2373.3 1552.1,2376.6 1544,2379.3 1537.1,2381.3 1528.1,2383.6 1519.8,2385.3M1442.4,2385.3 1435.1,2383.9 1426.1,2381.8 1417.1,2379.3 1408.1,2376.4 1399.1,2373.2 1391.6,2370.3 1384.1,2367.1 1375.1,2362.9 1366.1,2358.4 1357.1,2353.5 1348.1,2348.2 1339.1,2342.5 1330.1,2336.5 1322.8,2331.3 1315.1,2325.6 1306.1,2318.5 1297.1,2311.1 1289.3,2304.3 1282.1,2297.8 1273.1,2289.3 1264.1,2280.3 1255.5,2271.3 1247.2,2262.3 1240.1,2254.3 1231.6,2244.3 1225.1,2236.4 1217.1,2226.3 1210.1,2217.2 1201.3,2205.3 1195.1,2196.6 1186.7,2184.3 1180.1,2174.4 1173,2163.3 1165.1,2150.7 1151.3,2127.3 1138,2103.3 1131.7,2091.3 1124.1,2076.3 1111.1,2049.5 1099.1,2023.1 1087.1,1994.8 1075.1,1964.5 1064.3,1935.3 1054,1905.3 1044.4,1875.3 1034.6,1842.3 1026.3,1812.3 1018,1779.3 1010.4,1746.3 1003.1,1711.6" fill="none" stroke="#000" stroke-width="1.7"/>
<path d="M1728.8,1689.3 1727.5,1716.3 1725.8,1740.3 1723.2,1767.3 1720.4,1791.3 1716.9,1815.3 1712.9,1839.3 1708.2,1863.3 1703.5,1884.3 1698.2,1905.3 1692.3,1926.3 1685.7,1947.3 1681.6,1959.3 1678.1,1968.9 1671.3,1986.3 1663.1,2005.4 1658,2016.3 1654.1,2024.3 1645.6,2040.3 1640.5,2049.3 1636.1,2056.7 1627.1,2070.6 1621.1,2079.3 1616.7,2085.3 1612.1,2091.2 1606.1,2098.6 1596.7,2109.3 1591.1,2115.1 1585.1,2121 1579.1,2126.5 1573.1,2131.7 1567.1,2136.5 1561.1,2141 1555.1,2145.2 1549.1,2149 1543.1,2152.6 1537.1,2155.9 1531.1,2158.8 1525.1,2161.5 1519.1,2164 1513.1,2166.1 1507.1,2168.1 1501.1,2169.7 1495.1,2171.1 1489.1,2172.3 1483.1,2173.2 1477.1,2173.9 1471.1,2174.4 1462.1,2174.6 1456.1,2174.5 1450.1,2174.2 1444.1,2173.6 1435.1,2172.4 1429.1,2171.3 1420.5,2169.3 1414.1,2167.5 1408.1,2165.7 1402.1,2163.6 1393.7,2160.3 1387.1,2157.5 1381.1,2154.6 1369.1,2148.3 1360.1,2143 1354.1,2139.1 1348.1,2135.1 1341.4,2130.3 1333.1,2124 1327.1,2119.2 1315.1,2108.8 1303,2097.3 1297.1,2091.3 1288.6,2082.3 1276.1,2068.1 1264.1,2053.3 1252.1,2037.4 1240.1,2020.2 1228.1,2001.6 1217.1,1983.3 1207.1,1965.6 1195.9,1944.3 1186.1,1924.4 1177.1,1904.9 1168.1,1884 1159.1,1861.7 1150.1,1837.7 1142.3,1815.3 1134.5,1791.3 1126.5,1764.3 1120.1,1741.1 1113.8,1716.3 1107.6,1689.3" fill="none" stroke="#000" stroke-width="1.7"/>
<path d="M1548.7,1689.3 1546.6,1698.3 1544.4,1707.3 1540.1,1722.3 1537.1,1731.3 1535,1737.3 1530.3,1749.3 1527.7,1755.3 1523.4,1764.3 1520.3,1770.3 1516.9,1776.3 1513.1,1782.6 1510.1,1787.2 1507.1,1791.5 1502.7,1797.3 1498.1,1802.8 1495.1,1806.1 1492,1809.3 1486.1,1814.7 1481.7,1818.3 1477.1,1821.7 1473.1,1824.3 1468.1,1827.2 1462.1,1830.1 1459.1,1831.3 1453.4,1833.3 1450.1,1834.2 1447.1,1834.9 1441.1,1836 1437.8,1836.3 1432.1,1836.6 1426.1,1836.4 1423.1,1836.1 1420.1,1835.7 1414.1,1834.6 1408.1,1833 1402.1,1831 1399.1,1829.8 1393.1,1827.1 1387.1,1824 1382.6,1821.3 1378.1,1818.4 1372.1,1814 1363.1,1806.7 1354.1,1798.1 1345.1,1788.4 1336.1,1777.4 1327.1,1765.1 1322.6,1758.3 1318.1,1751.1 1313.5,1743.3 1309.1,1735.4 1302.3,1722.3 1298,1713.3 1294.1,1704.6 1287.8,1689.3" fill="none" stroke="#000" stroke-width="1.7"/>
</g>
<rect x="1009.1" y="1695.3" width="725.9" height="682.4" fill="none" stroke="#8e989c" stroke-width="1.6"/>
<path d="M1009.1,2377.7v8M1190.5,2377.7v8M1372,2377.7v8M1553.4,2377.7v8M1734.8,2377.7v8M1009.1,2300.1h-8M1009.1,2203.4h-8M1009.1,2106.7h-8M1009.1,2010h-8M1009.1,1913.3h-8M1009.1,1816.6h-8M1009.1,1719.9h-8" stroke="#8e989c" stroke-width="1.6" fill="none"/>
<text transform="translate(1009.1 2416.5) scale(1.1000 1)" font-family='"Liberation Sans", sans-serif' font-size="29.5" font-weight="bold" text-anchor="middle" fill="#000" stroke="#000" stroke-width="1" stroke-linejoin="round">650</text>
<text transform="translate(1190.5 2416.5) scale(1.1000 1)" font-family='"Liberation Sans", sans-serif' font-size="29.5" font-weight="bold" text-anchor="middle" fill="#000" stroke="#000" stroke-width="1" stroke-linejoin="round">700</text>
<text transform="translate(1372 2416.5) scale(1.1000 1)" font-family='"Liberation Sans", sans-serif' font-size="29.5" font-weight="bold" text-anchor="middle" fill="#000" stroke="#000" stroke-width="1" stroke-linejoin="round">750</text>
<text transform="translate(1553.4 2416.5) scale(1.1000 1)" font-family='"Liberation Sans", sans-serif' font-size="29.5" font-weight="bold" text-anchor="middle" fill="#000" stroke="#000" stroke-width="1" stroke-linejoin="round">800</text>
<text transform="translate(1734.8 2416.5) scale(1.1000 1)" font-family='"Liberation Sans", sans-serif' font-size="29.5" font-weight="bold" text-anchor="middle" fill="#000" stroke="#000" stroke-width="1" stroke-linejoin="round">850</text>
<text transform="translate(994 2310.6) scale(1.1000 1)" font-family='"Liberation Sans", sans-serif' font-size="29.5" font-weight="bold" text-anchor="end" fill="#000" stroke="#000" stroke-width="1" stroke-linejoin="round">10</text>
<text transform="translate(994 2213.9) scale(1.1000 1)" font-family='"Liberation Sans", sans-serif' font-size="29.5" font-weight="bold" text-anchor="end" fill="#000" stroke="#000" stroke-width="1" stroke-linejoin="round">12</text>
<text transform="translate(994 2117.2) scale(1.1000 1)" font-family='"Liberation Sans", sans-serif' font-size="29.5" font-weight="bold" text-anchor="end" fill="#000" stroke="#000" stroke-width="1" stroke-linejoin="round">14</text>
<text transform="translate(994 2020.5) scale(1.1000 1)" font-family='"Liberation Sans", sans-serif' font-size="29.5" font-weight="bold" text-anchor="end" fill="#000" stroke="#000" stroke-width="1" stroke-linejoin="round">16</text>
<text transform="translate(994 1923.8) scale(1.1000 1)" font-family='"Liberation Sans", sans-serif' font-size="29.5" font-weight="bold" text-anchor="end" fill="#000" stroke="#000" stroke-width="1" stroke-linejoin="round">18</text>
<text transform="translate(994 1827.1) scale(1.1000 1)" font-family='"Liberation Sans", sans-serif' font-size="29.5" font-weight="bold" text-anchor="end" fill="#000" stroke="#000" stroke-width="1" stroke-linejoin="round">20</text>
<text transform="translate(994 1730.4) scale(1.1000 1)" font-family='"Liberation Sans", sans-serif' font-size="29.5" font-weight="bold" text-anchor="end" fill="#000" stroke="#000" stroke-width="1" stroke-linejoin="round">22</text>
<text transform="translate(1373 2470) scale(1.1450 1)" font-family='"Liberation Sans", sans-serif' font-size="30" font-weight="bold" text-anchor="middle" fill="#000" stroke="#000" stroke-width="1" stroke-linejoin="round">Temperature</text>
<text transform="translate(930.5 2034.8) rotate(-90) scale(0.9600 1)" font-family='"Liberation Sans", sans-serif' font-size="33" font-weight="bold" text-anchor="middle" fill="#000" stroke="#000" stroke-width="1" stroke-linejoin="round">Time</text>
<rect x="1078.5" y="1725.6" width="85.5" height="36.4" fill="#fff"/>
<text transform="translate(1121.2 1755.2) scale(1.1000 1)" font-family='"Liberation Sans", sans-serif' font-size="30.3" font-weight="bold" text-anchor="middle" fill="#000" stroke="#000" stroke-width="1" stroke-linejoin="round">645</text>
<rect x="1020.6" y="2150.4" width="81.3" height="36.4" fill="#fff"/>
<text transform="translate(1061.2 2180) scale(1.1000 1)" font-family='"Liberation Sans", sans-serif' font-size="30.3" font-weight="bold" text-anchor="middle" fill="#000" stroke="#000" stroke-width="1" stroke-linejoin="round">615</text>
<rect x="1018.9" y="2333.9" width="85" height="36.9" fill="#fff"/>
<text transform="translate(1061.4 2363.8) scale(1.1000 1)" font-family='"Liberation Sans", sans-serif' font-size="30.3" font-weight="bold" text-anchor="middle" fill="#000" stroke="#000" stroke-width="1" stroke-linejoin="round">600</text>
<rect x="1278.5" y="2312.5" width="83.3" height="36.2" fill="#fff"/>
<text transform="translate(1320.2 2342) scale(1.1000 1)" font-family='"Liberation Sans", sans-serif' font-size="30.3" font-weight="bold" text-anchor="middle" fill="#000" stroke="#000" stroke-width="1" stroke-linejoin="round">630</text>
<rect x="1381.7" y="1819.2" width="83.3" height="36.2" fill="#fff"/>
<text transform="translate(1423.3 1848.7) scale(1.1000 1)" font-family='"Liberation Sans", sans-serif' font-size="30.3" font-weight="bold" text-anchor="middle" fill="#000" stroke="#000" stroke-width="1" stroke-linejoin="round">660</text>
<rect x="1589.4" y="2314.2" width="82.5" height="34.5" fill="#fff"/>
<text transform="translate(1630.7 2342.8) scale(1.1000 1)" font-family='"Liberation Sans", sans-serif' font-size="30.3" font-weight="bold" text-anchor="middle" fill="#000" stroke="#000" stroke-width="1" stroke-linejoin="round">630</text>
<text transform="translate(1395.6 1765.8) scale(0.9585 1)" font-family='"Liberation Serif", serif' font-size="82.7" font-weight="normal" text-anchor="start" fill="#fff" stroke="#fff" stroke-width="2.2" stroke-linejoin="round">A</text>
</g>
<text transform="translate(6.9 844.8) scale(1.1017 1)" font-family='"Liberation Serif", serif' font-size="39.3" font-weight="bold" text-anchor="start" fill="#000">(a)</text>
<text transform="translate(874.9 844.8) scale(1.0930 1)" font-family='"Liberation Serif", serif' font-size="39.3" font-weight="bold" text-anchor="start" fill="#000">(b)</text>
<text transform="translate(7 1618.9) scale(1.0922 1)" font-family='"Liberation Serif", serif' font-size="39.7" font-weight="bold" text-anchor="start" fill="#000">(c)</text>
<text transform="translate(874.9 1618.9) scale(1.0838 1)" font-family='"Liberation Serif", serif' font-size="39.7" font-weight="bold" text-anchor="start" fill="#000">(d)</text>
<text transform="translate(7 2453.9) scale(1.0922 1)" font-family='"Liberation Serif", serif' font-size="39.7" font-weight="bold" text-anchor="start" fill="#000">(e)</text>
<text transform="translate(874.9 2454) scale(1.1035 1)" font-family='"Liberation Serif", serif' font-size="39.2" font-weight="bold" text-anchor="start" fill="#000">(f)</text>
<g id="panel-a">
<path d="M349,8.1L757,96.2M762.4,452.8L354.4,364.7" fill="none" stroke="#a0a0a0" stroke-width="2.2"/>
<path d="M175.6,239.8L349,8.1M757,96.2L762.4,452.8M349,8.1L354.4,364.7" fill="none" stroke="#8c8c8c" stroke-width="1.5"/>
<path d="M181,596.4L354.4,364.7" fill="none" stroke="#666" stroke-width="1.2"/>
<g fill="#cc0000" stroke="#fff" stroke-width="2" stroke-linejoin="round">
<path d="M328.6,249.3 353.8,223.9 363.7,226.1 338.5,251.1ZM353.8,223.9 379.1,202.7 389,205.2 363.7,226.1ZM379.1,202.7 404.4,185.6 414.3,188.4 389,205.2ZM404.4,185.6 429.8,172.7 439.7,175.8 414.3,188.4ZM429.8,172.7 455.3,163.9 465.2,167.3 439.7,175.8ZM455.3,163.9 480.8,159.3 490.7,163 465.2,167.3ZM480.8,159.3 506.4,158.8 516.3,162.8 490.7,163ZM506.4,158.8 532.1,162.4 542,166.8 516.3,162.8ZM532.1,162.4 557.8,170.3 567.7,174.9 542,166.8ZM557.8,170.3 583.6,182.2 593.5,187.2 567.7,174.9ZM583.6,182.2 609.4,198.3 619.3,203.6 593.5,187.2ZM609.4,198.3 635.3,218.5 645.2,224.1 619.3,203.6ZM635.3,218.5 661.3,242.9 671.2,248.8 645.2,224.1ZM661.3,242.9 687.3,271.4 697.3,277.6 671.2,248.8Z"/>
<path d="M318.8,251.7 344,226.1 353.8,223.9 328.6,249.3ZM344,226.1 369.3,204.5 379.1,202.7 353.8,223.9ZM369.3,204.5 394.6,187.2 404.4,185.6 379.1,202.7ZM394.6,187.2 420,173.9 429.8,172.7 404.4,185.6ZM420,173.9 445.5,164.8 455.3,163.9 429.8,172.7ZM445.5,164.8 471,159.9 480.8,159.3 455.3,163.9ZM471,159.9 496.6,159.1 506.4,158.8 480.8,159.3ZM496.6,159.1 522.2,162.4 532.1,162.4 506.4,158.8ZM522.2,162.4 547.9,169.9 557.8,170.3 532.1,162.4ZM547.9,169.9 573.7,181.6 583.6,182.2 557.8,170.3ZM573.7,181.6 599.6,197.4 609.4,198.3 583.6,182.2ZM599.6,197.4 625.5,217.3 635.3,218.5 609.4,198.3ZM625.5,217.3 651.4,241.4 661.3,242.9 635.3,218.5ZM651.4,241.4 677.5,269.6 687.3,271.4 661.3,242.9Z"/>
<path d="M309,258.5 334.3,232.6 344,226.1 318.8,251.7ZM334.3,232.6 359.5,210.7 369.3,204.5 344,226.1ZM359.5,210.7 384.9,193 394.6,187.2 369.3,204.5ZM384.9,193 410.3,179.5 420,173.9 394.6,187.2ZM410.3,179.5 435.7,170.1 445.5,164.8 420,173.9ZM435.7,170.1 461.2,164.8 471,159.9 445.5,164.8ZM461.2,164.8 486.8,163.7 496.6,159.1 471,159.9ZM486.8,163.7 512.5,166.8 522.2,162.4 496.6,159.1ZM512.5,166.8 538.2,174 547.9,169.9 522.2,162.4ZM538.2,174 563.9,185.3 573.7,181.6 547.9,169.9ZM563.9,185.3 589.8,200.8 599.6,197.4 573.7,181.6ZM589.8,200.8 615.7,220.4 625.5,217.3 599.6,197.4ZM615.7,220.4 641.6,244.2 651.4,241.4 625.5,217.3ZM641.6,244.2 667.7,272.1 677.5,269.6 651.4,241.4Z"/>
<path d="M299.4,269.7 324.6,243.4 334.3,232.6 309,258.5ZM324.6,243.4 349.8,221.2 359.5,210.7 334.3,232.6ZM349.8,221.2 375.2,203.2 384.9,193 359.5,210.7ZM375.2,203.2 400.6,189.4 410.3,179.5 384.9,193ZM400.6,189.4 426,179.7 435.7,170.1 410.3,179.5ZM426,179.7 451.5,174.1 461.2,164.8 435.7,170.1ZM451.5,174.1 477.1,172.7 486.8,163.7 461.2,164.8ZM477.1,172.7 502.8,175.4 512.5,166.8 486.8,163.7ZM502.8,175.4 528.5,182.3 538.2,174 512.5,166.8ZM528.5,182.3 554.2,193.3 563.9,185.3 538.2,174ZM554.2,193.3 580.1,208.5 589.8,200.8 563.9,185.3ZM580.1,208.5 605.9,227.8 615.7,220.4 589.8,200.8ZM605.9,227.8 631.9,251.3 641.6,244.2 615.7,220.4ZM631.9,251.3 657.9,278.9 667.7,272.1 641.6,244.2Z"/>
<path d="M289.8,285.1 315,258.5 324.6,243.4 299.4,269.7ZM315,258.5 340.2,236.1 349.8,221.2 324.6,243.4ZM340.2,236.1 365.6,217.8 375.2,203.2 349.8,221.2ZM365.6,217.8 390.9,203.6 400.6,189.4 375.2,203.2ZM390.9,203.6 416.4,193.6 426,179.7 400.6,189.4ZM416.4,193.6 441.9,187.7 451.5,174.1 426,179.7ZM441.9,187.7 467.5,186 477.1,172.7 451.5,174.1ZM467.5,186 493.1,188.4 502.8,175.4 477.1,172.7ZM493.1,188.4 518.8,195 528.5,182.3 502.8,175.4ZM518.8,195 544.6,205.7 554.2,193.3 528.5,182.3ZM544.6,205.7 570.4,220.6 580.1,208.5 554.2,193.3ZM570.4,220.6 596.3,239.6 605.9,227.8 580.1,208.5ZM596.3,239.6 622.2,262.7 631.9,251.3 605.9,227.8ZM622.2,262.7 648.2,290 657.9,278.9 631.9,251.3Z"/>
<path d="M280.2,304.9 305.4,278 315,258.5 289.8,285.1ZM305.4,278 330.7,255.3 340.2,236.1 315,258.5ZM330.7,255.3 356,236.7 365.6,217.8 340.2,236.1ZM356,236.7 381.4,222.2 390.9,203.6 365.6,217.8ZM381.4,222.2 406.8,211.9 416.4,193.6 390.9,203.6ZM406.8,211.9 432.3,205.7 441.9,187.7 416.4,193.6ZM432.3,205.7 457.9,203.6 467.5,186 441.9,187.7ZM457.9,203.6 483.5,205.8 493.1,188.4 467.5,186ZM483.5,205.8 509.2,212 518.8,195 493.1,188.4ZM509.2,212 535,222.4 544.6,205.7 518.8,195ZM535,222.4 560.8,237 570.4,220.6 544.6,205.7ZM560.8,237 586.7,255.7 596.3,239.6 570.4,220.6ZM586.7,255.7 612.6,278.5 622.2,262.7 596.3,239.6ZM612.6,278.5 638.6,305.5 648.2,290 622.2,262.7Z"/>
<path d="M270.8,329.1 295.9,301.8 305.4,278 280.2,304.9ZM295.9,301.8 321.2,278.8 330.7,255.3 305.4,278ZM321.2,278.8 346.5,259.9 356,236.7 330.7,255.3ZM346.5,259.9 371.9,245.1 381.4,222.2 356,236.7ZM371.9,245.1 397.3,234.4 406.8,211.9 381.4,222.2ZM397.3,234.4 422.8,228 432.3,205.7 406.8,211.9ZM422.8,228 448.4,225.6 457.9,203.6 432.3,205.7ZM448.4,225.6 474,227.4 483.5,205.8 457.9,203.6ZM474,227.4 499.7,233.4 509.2,212 483.5,205.8ZM499.7,233.4 525.5,243.5 535,222.4 509.2,212ZM525.5,243.5 551.3,257.7 560.8,237 535,222.4ZM551.3,257.7 577.2,276.1 586.7,255.7 560.8,237ZM577.2,276.1 603.1,298.6 612.6,278.5 586.7,255.7ZM603.1,298.6 629.1,325.3 638.6,305.5 612.6,278.5Z"/>
<path d="M261.4,357.5 286.5,330 295.9,301.8 270.8,329.1ZM286.5,330 311.8,306.6 321.2,278.8 295.9,301.8ZM311.8,306.6 337.1,287.4 346.5,259.9 321.2,278.8ZM337.1,287.4 362.5,272.3 371.9,245.1 346.5,259.9ZM362.5,272.3 387.9,261.4 397.3,234.4 371.9,245.1ZM387.9,261.4 413.4,254.6 422.8,228 397.3,234.4ZM413.4,254.6 439,251.9 448.4,225.6 422.8,228ZM439,251.9 464.6,253.4 474,227.4 448.4,225.6ZM464.6,253.4 490.3,259 499.7,233.4 474,227.4ZM490.3,259 516,268.8 525.5,243.5 499.7,233.4ZM516,268.8 541.8,282.8 551.3,257.7 525.5,243.5ZM541.8,282.8 567.7,300.8 577.2,276.1 551.3,257.7ZM567.7,300.8 593.6,323.1 603.1,298.6 577.2,276.1ZM593.6,323.1 619.6,349.4 629.1,325.3 603.1,298.6Z"/>
<path d="M252,390.3 277.2,362.5 286.5,330 261.4,357.5ZM277.2,362.5 302.4,338.8 311.8,306.6 286.5,330ZM302.4,338.8 327.7,319.3 337.1,287.4 311.8,306.6ZM327.7,319.3 353.1,303.9 362.5,272.3 337.1,287.4ZM353.1,303.9 378.5,292.6 387.9,261.4 362.5,272.3ZM378.5,292.6 404,285.5 413.4,254.6 387.9,261.4ZM404,285.5 429.6,282.5 439,251.9 413.4,254.6ZM429.6,282.5 455.2,283.7 464.6,253.4 439,251.9ZM455.2,283.7 480.9,289.1 490.3,259 464.6,253.4ZM480.9,289.1 506.6,298.5 516,268.8 490.3,259ZM506.6,298.5 532.4,312.1 541.8,282.8 516,268.8ZM532.4,312.1 558.3,329.9 567.7,300.8 541.8,282.8ZM558.3,329.9 584.2,351.8 593.6,323.1 567.7,300.8ZM584.2,351.8 610.2,377.9 619.6,349.4 593.6,323.1Z"/>
<path d="M242.7,427.4 267.9,399.3 277.2,362.5 252,390.3ZM267.9,399.3 293.1,375.3 302.4,338.8 277.2,362.5ZM293.1,375.3 318.4,355.4 327.7,319.3 302.4,338.8ZM318.4,355.4 343.8,339.7 353.1,303.9 327.7,319.3ZM343.8,339.7 369.2,328.2 378.5,292.6 353.1,303.9ZM369.2,328.2 394.7,320.8 404,285.5 378.5,292.6ZM394.7,320.8 420.3,317.5 429.6,282.5 404,285.5ZM420.3,317.5 445.9,318.4 455.2,283.7 429.6,282.5ZM445.9,318.4 471.6,323.4 480.9,289.1 455.2,283.7ZM471.6,323.4 497.3,332.6 506.6,298.5 480.9,289.1ZM497.3,332.6 523.1,345.9 532.4,312.1 506.6,298.5ZM523.1,345.9 549,363.3 558.3,329.9 532.4,312.1ZM549,363.3 574.9,384.9 584.2,351.8 558.3,329.9ZM574.9,384.9 600.9,410.7 610.2,377.9 584.2,351.8Z"/>
<path d="M233.5,468.9 258.7,440.4 267.9,399.3 242.7,427.4ZM258.7,440.4 283.9,416.1 293.1,375.3 267.9,399.3ZM283.9,416.1 309.2,396 318.4,355.4 293.1,375.3ZM309.2,396 334.6,380 343.8,339.7 318.4,355.4ZM334.6,380 360,368.1 369.2,328.2 343.8,339.7ZM360,368.1 385.5,360.4 394.7,320.8 369.2,328.2ZM385.5,360.4 411,356.8 420.3,317.5 394.7,320.8ZM411,356.8 436.6,357.4 445.9,318.4 420.3,317.5ZM436.6,357.4 462.3,362.1 471.6,323.4 445.9,318.4ZM462.3,362.1 488,370.9 497.3,332.6 471.6,323.4ZM488,370.9 513.8,383.9 523.1,345.9 497.3,332.6ZM513.8,383.9 539.7,401.1 549,363.3 523.1,345.9ZM539.7,401.1 565.6,422.4 574.9,384.9 549,363.3ZM565.6,422.4 591.6,447.8 600.9,410.7 574.9,384.9Z"/>
<path d="M224.4,514.7 249.5,485.9 258.7,440.4 233.5,468.9ZM249.5,485.9 274.8,461.3 283.9,416.1 258.7,440.4ZM274.8,461.3 300.1,440.8 309.2,396 283.9,416.1ZM300.1,440.8 325.4,424.5 334.6,380 309.2,396ZM325.4,424.5 350.8,412.3 360,368.1 334.6,380ZM350.8,412.3 376.3,404.3 385.5,360.4 360,368.1ZM376.3,404.3 401.8,400.4 411,356.8 385.5,360.4ZM401.8,400.4 427.5,400.7 436.6,357.4 411,356.8ZM427.5,400.7 453.1,405.1 462.3,362.1 436.6,357.4ZM453.1,405.1 478.8,413.6 488,370.9 462.3,362.1ZM478.8,413.6 504.6,426.3 513.8,383.9 488,370.9ZM504.6,426.3 530.5,443.2 539.7,401.1 513.8,383.9ZM530.5,443.2 556.4,464.1 565.6,422.4 539.7,401.1ZM556.4,464.1 582.4,489.3 591.6,447.8 565.6,422.4Z"/>
<path d="M215.3,564.8 240.5,535.7 249.5,485.9 224.4,514.7ZM240.5,535.7 265.7,510.8 274.8,461.3 249.5,485.9ZM265.7,510.8 291,490 300.1,440.8 274.8,461.3ZM291,490 316.3,473.4 325.4,424.5 300.1,440.8ZM316.3,473.4 341.7,460.9 350.8,412.3 325.4,424.5ZM341.7,460.9 367.2,452.6 376.3,404.3 350.8,412.3ZM367.2,452.6 392.7,448.4 401.8,400.4 376.3,404.3ZM392.7,448.4 418.3,448.3 427.5,400.7 401.8,400.4ZM418.3,448.3 444,452.4 453.1,405.1 427.5,400.7ZM444,452.4 469.7,460.6 478.8,413.6 453.1,405.1ZM469.7,460.6 495.5,473 504.6,426.3 478.8,413.6ZM495.5,473 521.4,489.6 530.5,443.2 504.6,426.3ZM521.4,489.6 547.3,510.2 556.4,464.1 530.5,443.2ZM547.3,510.2 573.2,535.1 582.4,489.3 556.4,464.1Z"/>
</g>
<path d="M175.6,239.8L181,598.4" fill="none" stroke="#000" stroke-width="5.2" stroke-linecap="butt"/>
<path d="M589,684.5L762.4,452.8" fill="none" stroke="#000" stroke-width="4" stroke-linecap="square"/>
<path d="M180,596.9L184,597.2L194.3,597.2L198.3,600.3L208.6,600.3L212.6,603.4L222.9,603.4L226.9,606.5L237.2,606.5L241.2,609.6L251.5,609.6L255.5,612.7L265.8,612.7L269.8,615.8L280.1,615.8L284.1,618.9L294.4,618.9L298.4,621.9L308.7,621.9L312.7,625L323,625L327,628.1L337.3,628.1L341.3,631.2L351.6,631.2L355.6,634.3L365.9,634.3L369.9,637.4L380.2,637.4L384.2,640.5L394.5,640.5L398.5,643.6L408.8,643.6L412.8,646.6L423.1,646.6L427.1,649.7L437.4,649.7L441.4,652.8L451.7,652.8L455.7,655.9L466,655.9L470,659L480.3,659L484.3,662.1L494.6,662.1L498.6,665.2L508.9,665.2L512.9,668.3L523.2,668.3L527.2,671.4L537.5,671.4L541.5,674.4L551.8,674.4L555.8,677.5L566.1,677.5L570.1,680.6L580.4,680.6L584.4,683.7L588,683.7L589,684.5" fill="none" stroke="#000" stroke-width="3.2" stroke-linejoin="round"/>
<path d="M176.7,316.1h-10M178,398.8h-10M179.3,487.7h-10M180.6,573.4h-10" fill="none" stroke="#000" stroke-width="4.6"/>
<path d="M261.9,612.8l-4.8,10.5M382.5,638.8l-4.8,10.5M505.5,665.4l-4.8,10.5" fill="none" stroke="#000" stroke-width="2.8"/>
<path d="M590.9,683l11,1l-9,-5ZM646.8,608.3l11,1l-9,-5ZM703,533.2l11,1l-9,-5ZM760.4,456.5l11,1l-9,-5Z" fill="#000" stroke="#000" stroke-width="1"/>
<text transform="translate(88.2 316.6) scale(0.7822 1)" font-family='"Liberation Sans", sans-serif' font-size="40.3" font-weight="bold" text-anchor="start" fill="#000" stroke="#000" stroke-width="0.7" stroke-linejoin="round">640</text>
<text transform="translate(88.2 402.7) scale(0.7990 1)" font-family='"Liberation Sans", sans-serif' font-size="39.4" font-weight="bold" text-anchor="start" fill="#000" stroke="#000" stroke-width="0.7" stroke-linejoin="round">620</text>
<text transform="translate(92.4 490.4) scale(0.7783 1)" font-family='"Liberation Sans", sans-serif' font-size="38.3" font-weight="bold" text-anchor="start" fill="#000" stroke="#000" stroke-width="0.7" stroke-linejoin="round">600</text>
<text transform="translate(93.9 577.1) scale(0.7241 1)" font-family='"Liberation Sans", sans-serif' font-size="40.3" font-weight="bold" text-anchor="start" fill="#000" stroke="#000" stroke-width="0.7" stroke-linejoin="round">580</text>
<text transform="translate(4.3 402.5) scale(0.7205 1)" font-family='"Liberation Sans", sans-serif' font-size="39.2" font-weight="bold" text-anchor="start" fill="#000" stroke="#000" stroke-width="0.7" stroke-linejoin="round">UTS</text>
<text transform="translate(208.8 669.2) scale(0.7577 1)" font-family='"Liberation Sans", sans-serif' font-size="38.3" font-weight="bold" text-anchor="start" fill="#000" stroke="#000" stroke-width="0.7" stroke-linejoin="round">400</text>
<text transform="translate(331 694.9) scale(0.7534 1)" font-family='"Liberation Sans", sans-serif' font-size="38.3" font-weight="bold" text-anchor="start" fill="#000" stroke="#000" stroke-width="0.7" stroke-linejoin="round">500</text>
<text transform="translate(449.2 720.7) scale(0.7734 1)" font-family='"Liberation Sans", sans-serif' font-size="38.3" font-weight="bold" text-anchor="start" fill="#000" stroke="#000" stroke-width="0.7" stroke-linejoin="round">600</text>
<text transform="translate(301.3 741.1) scale(0.6942 1)" font-family='"Liberation Sans", sans-serif' font-size="40.4" font-weight="bold" text-anchor="start" fill="#000" stroke="#000" stroke-width="0.7" stroke-linejoin="round">Sp</text>
<text transform="translate(625.8 708.5) scale(0.7276 1)" font-family='"Liberation Sans", sans-serif' font-size="40.3" font-weight="bold" text-anchor="start" fill="#000" stroke="#000" stroke-width="0.7" stroke-linejoin="round">640</text>
<text transform="translate(682.5 634) scale(0.7440 1)" font-family='"Liberation Sans", sans-serif' font-size="40.3" font-weight="bold" text-anchor="start" fill="#000" stroke="#000" stroke-width="0.7" stroke-linejoin="round">720</text>
<text transform="translate(736.5 560.8) scale(0.7481 1)" font-family='"Liberation Sans", sans-serif' font-size="40.1" font-weight="bold" text-anchor="start" fill="#000" stroke="#000" stroke-width="0.7" stroke-linejoin="round">800</text>
<text transform="translate(793.9 484.9) scale(0.7403 1)" font-family='"Liberation Sans", sans-serif' font-size="40.1" font-weight="bold" text-anchor="start" fill="#000" stroke="#000" stroke-width="0.7" stroke-linejoin="round">880</text>
<text transform="translate(787.8 611.9) scale(0.7948 1)" font-family='"Liberation Sans", sans-serif' font-size="38.3" font-weight="bold" text-anchor="start" fill="#000" stroke="#000" stroke-width="0.7" stroke-linejoin="round">Tm</text>
</g>
<g id="panel-c">
<path d="M386.9,912.5L807.1,997.9M812.5,1335.4L392.3,1250" fill="none" stroke="#a0a0a0" stroke-width="2.2"/>
<path d="M207.3,1134.1L386.9,912.5M807.1,997.9L812.5,1335.4M386.9,912.5L392.3,1250" fill="none" stroke="#8c8c8c" stroke-width="1.5"/>
<path d="M212.7,1471.6L392.3,1250" fill="none" stroke="#666" stroke-width="1.2"/>
<g fill="#cc0000" stroke="#fff" stroke-width="2" stroke-linejoin="round">
<path d="M394.5,1088.9 420.4,1064.8 431.7,1045 405.8,1068.7ZM420.4,1064.8 446.4,1044.8 457.7,1025.3 431.7,1045ZM446.4,1044.8 472.5,1028.8 483.8,1009.7 457.7,1025.3ZM472.5,1028.8 498.6,1016.9 509.9,998.1 483.8,1009.7ZM498.6,1016.9 524.8,1009 536.1,990.5 509.9,998.1ZM524.8,1009 551.1,1005.2 562.4,987 536.1,990.5ZM551.1,1005.2 577.4,1005.4 588.7,987.6 562.4,987ZM577.4,1005.4 603.8,1009.6 615.1,992.1 588.7,987.6ZM603.8,1009.6 630.2,1017.9 641.6,1000.7 615.1,992.1ZM630.2,1017.9 656.8,1030.2 668.1,1013.4 641.6,1000.7ZM656.8,1030.2 683.3,1046.5 694.7,1030.1 668.1,1013.4ZM683.3,1046.5 710,1066.9 721.3,1050.8 694.7,1030.1ZM710,1066.9 736.7,1091.4 748.1,1075.6 721.3,1050.8ZM736.7,1091.4 763.5,1119.9 774.8,1104.4 748.1,1075.6Z"/>
<path d="M383.2,1110 409.2,1085.6 420.4,1064.8 394.5,1088.9ZM409.2,1085.6 435.1,1065.3 446.4,1044.8 420.4,1064.8ZM435.1,1065.3 461.2,1049 472.5,1028.8 446.4,1044.8ZM461.2,1049 487.3,1036.7 498.6,1016.9 472.5,1028.8ZM487.3,1036.7 513.5,1028.5 524.8,1009 498.6,1016.9ZM513.5,1028.5 539.8,1024.3 551.1,1005.2 524.8,1009ZM539.8,1024.3 566.1,1024.1 577.4,1005.4 551.1,1005.2ZM566.1,1024.1 592.5,1028 603.8,1009.6 577.4,1005.4ZM592.5,1028 618.9,1036 630.2,1017.9 603.8,1009.6ZM618.9,1036 645.4,1047.9 656.8,1030.2 630.2,1017.9ZM645.4,1047.9 672,1064 683.3,1046.5 656.8,1030.2ZM672,1064 698.6,1084 710,1066.9 683.3,1046.5ZM698.6,1084 725.4,1108.1 736.7,1091.4 710,1066.9ZM725.4,1108.1 752.1,1136.3 763.5,1119.9 736.7,1091.4Z"/>
<path d="M372,1132.1 397.9,1107.4 409.2,1085.6 383.2,1110ZM397.9,1107.4 423.9,1086.7 435.1,1065.3 409.2,1085.6ZM423.9,1086.7 449.9,1070.1 461.2,1049 435.1,1065.3ZM449.9,1070.1 476,1057.5 487.3,1036.7 461.2,1049ZM476,1057.5 502.2,1048.9 513.5,1028.5 487.3,1036.7ZM502.2,1048.9 528.5,1044.4 539.8,1024.3 513.5,1028.5ZM528.5,1044.4 554.8,1043.9 566.1,1024.1 539.8,1024.3ZM554.8,1043.9 581.2,1047.5 592.5,1028 566.1,1024.1ZM581.2,1047.5 607.6,1055.1 618.9,1036 592.5,1028ZM607.6,1055.1 634.1,1066.7 645.4,1047.9 618.9,1036ZM634.1,1066.7 660.7,1082.4 672,1064 645.4,1047.9ZM660.7,1082.4 687.3,1102.1 698.6,1084 672,1064ZM687.3,1102.1 714,1125.9 725.4,1108.1 698.6,1084ZM714,1125.9 740.8,1153.7 752.1,1136.3 725.4,1108.1Z"/>
<path d="M360.7,1155.3 386.6,1130.2 397.9,1107.4 372,1132.1ZM386.6,1130.2 412.6,1109.1 423.9,1086.7 397.9,1107.4ZM412.6,1109.1 438.7,1092.2 449.9,1070.1 423.9,1086.7ZM438.7,1092.2 464.8,1079.2 476,1057.5 449.9,1070.1ZM464.8,1079.2 491,1070.3 502.2,1048.9 476,1057.5ZM491,1070.3 517.2,1065.5 528.5,1044.4 502.2,1048.9ZM517.2,1065.5 543.5,1064.6 554.8,1043.9 528.5,1044.4ZM543.5,1064.6 569.9,1067.9 581.2,1047.5 554.8,1043.9ZM569.9,1067.9 596.3,1075.1 607.6,1055.1 581.2,1047.5ZM596.3,1075.1 622.8,1086.4 634.1,1066.7 607.6,1055.1ZM622.8,1086.4 649.4,1101.8 660.7,1082.4 634.1,1066.7ZM649.4,1101.8 676,1121.2 687.3,1102.1 660.7,1082.4ZM676,1121.2 702.7,1144.6 714,1125.9 687.3,1102.1ZM702.7,1144.6 729.5,1172.1 740.8,1153.7 714,1125.9Z"/>
<path d="M349.5,1179.3 375.4,1153.9 386.6,1130.2 360.7,1155.3ZM375.4,1153.9 401.4,1132.6 412.6,1109.1 386.6,1130.2ZM401.4,1132.6 427.4,1115.2 438.7,1092.2 412.6,1109.1ZM427.4,1115.2 453.5,1102 464.8,1079.2 438.7,1092.2ZM453.5,1102 479.7,1092.7 491,1070.3 464.8,1079.2ZM479.7,1092.7 505.9,1087.5 517.2,1065.5 491,1070.3ZM505.9,1087.5 532.2,1086.4 543.5,1064.6 517.2,1065.5ZM532.2,1086.4 558.6,1089.3 569.9,1067.9 543.5,1064.6ZM558.6,1089.3 585,1096.2 596.3,1075.1 569.9,1067.9ZM585,1096.2 611.5,1107.2 622.8,1086.4 596.3,1075.1ZM611.5,1107.2 638.1,1122.2 649.4,1101.8 622.8,1086.4ZM638.1,1122.2 664.7,1141.2 676,1121.2 649.4,1101.8ZM664.7,1141.2 691.4,1164.3 702.7,1144.6 676,1121.2ZM691.4,1164.3 718.2,1191.5 729.5,1172.1 702.7,1144.6Z"/>
<path d="M338.3,1204.4 364.2,1178.7 375.4,1153.9 349.5,1179.3ZM364.2,1178.7 390.2,1157 401.4,1132.6 375.4,1153.9ZM390.2,1157 416.2,1139.3 427.4,1115.2 401.4,1132.6ZM416.2,1139.3 442.3,1125.7 453.5,1102 427.4,1115.2ZM442.3,1125.7 468.5,1116.1 479.7,1092.7 453.5,1102ZM468.5,1116.1 494.7,1110.6 505.9,1087.5 479.7,1092.7ZM494.7,1110.6 521,1109.1 532.2,1086.4 505.9,1087.5ZM521,1109.1 547.3,1111.6 558.6,1089.3 532.2,1086.4ZM547.3,1111.6 573.8,1118.2 585,1096.2 558.6,1089.3ZM573.8,1118.2 600.3,1128.9 611.5,1107.2 585,1096.2ZM600.3,1128.9 626.8,1143.6 638.1,1122.2 611.5,1107.2ZM626.8,1143.6 653.4,1162.3 664.7,1141.2 638.1,1122.2ZM653.4,1162.3 680.1,1185 691.4,1164.3 664.7,1141.2ZM680.1,1185 706.9,1211.8 718.2,1191.5 691.4,1164.3Z"/>
<path d="M327.1,1230.5 353,1204.4 364.2,1178.7 338.3,1204.4ZM353,1204.4 378.9,1182.4 390.2,1157 364.2,1178.7ZM378.9,1182.4 405,1164.4 416.2,1139.3 390.2,1157ZM405,1164.4 431.1,1150.4 442.3,1125.7 416.2,1139.3ZM431.1,1150.4 457.2,1140.5 468.5,1116.1 442.3,1125.7ZM457.2,1140.5 483.5,1134.6 494.7,1110.6 468.5,1116.1ZM483.5,1134.6 509.8,1132.8 521,1109.1 494.7,1110.6ZM509.8,1132.8 536.1,1135 547.3,1111.6 521,1109.1ZM536.1,1135 562.5,1141.3 573.8,1118.2 547.3,1111.6ZM562.5,1141.3 589,1151.6 600.3,1128.9 573.8,1118.2ZM589,1151.6 615.6,1165.9 626.8,1143.6 600.3,1128.9ZM615.6,1165.9 642.2,1184.3 653.4,1162.3 626.8,1143.6ZM642.2,1184.3 668.9,1206.7 680.1,1185 653.4,1162.3ZM668.9,1206.7 695.6,1233.2 706.9,1211.8 680.1,1185Z"/>
<path d="M315.9,1257.5 341.8,1231.1 353,1204.4 327.1,1230.5ZM341.8,1231.1 367.8,1208.7 378.9,1182.4 353,1204.4ZM367.8,1208.7 393.8,1190.4 405,1164.4 378.9,1182.4ZM393.8,1190.4 419.9,1176.1 431.1,1150.4 405,1164.4ZM419.9,1176.1 446,1165.9 457.2,1140.5 431.1,1150.4ZM446,1165.9 472.2,1159.7 483.5,1134.6 457.2,1140.5ZM472.2,1159.7 498.5,1157.5 509.8,1132.8 483.5,1134.6ZM498.5,1157.5 524.9,1159.4 536.1,1135 509.8,1132.8ZM524.9,1159.4 551.3,1165.3 562.5,1141.3 536.1,1135ZM551.3,1165.3 577.8,1175.3 589,1151.6 562.5,1141.3ZM577.8,1175.3 604.3,1189.3 615.6,1165.9 589,1151.6ZM604.3,1189.3 630.9,1207.3 642.2,1184.3 615.6,1165.9ZM630.9,1207.3 657.6,1229.4 668.9,1206.7 642.2,1184.3ZM657.6,1229.4 684.3,1255.5 695.6,1233.2 668.9,1206.7Z"/>
<path d="M304.7,1285.6 330.6,1258.8 341.8,1231.1 315.9,1257.5ZM330.6,1258.8 356.6,1236.1 367.8,1208.7 341.8,1231.1ZM356.6,1236.1 382.6,1217.4 393.8,1190.4 367.8,1208.7ZM382.6,1217.4 408.7,1202.8 419.9,1176.1 393.8,1190.4ZM408.7,1202.8 434.8,1192.2 446,1165.9 419.9,1176.1ZM434.8,1192.2 461,1185.7 472.2,1159.7 446,1165.9ZM461,1185.7 487.3,1183.2 498.5,1157.5 472.2,1159.7ZM487.3,1183.2 513.7,1184.7 524.9,1159.4 498.5,1157.5ZM513.7,1184.7 540.1,1190.3 551.3,1165.3 524.9,1159.4ZM540.1,1190.3 566.6,1199.9 577.8,1175.3 551.3,1165.3ZM566.6,1199.9 593.1,1213.6 604.3,1189.3 577.8,1175.3ZM593.1,1213.6 619.7,1231.3 630.9,1207.3 604.3,1189.3ZM619.7,1231.3 646.4,1253.1 657.6,1229.4 630.9,1207.3ZM646.4,1253.1 673.1,1278.9 684.3,1255.5 657.6,1229.4Z"/>
<path d="M293.6,1314.6 319.5,1287.5 330.6,1258.8 304.7,1285.6ZM319.5,1287.5 345.4,1264.5 356.6,1236.1 330.6,1258.8ZM345.4,1264.5 371.4,1245.5 382.6,1217.4 356.6,1236.1ZM371.4,1245.5 397.5,1230.5 408.7,1202.8 382.6,1217.4ZM397.5,1230.5 423.7,1219.6 434.8,1192.2 408.7,1202.8ZM423.7,1219.6 449.9,1212.7 461,1185.7 434.8,1192.2ZM449.9,1212.7 476.1,1209.9 487.3,1183.2 461,1185.7ZM476.1,1209.9 502.5,1211.1 513.7,1184.7 487.3,1183.2ZM502.5,1211.1 528.9,1216.3 540.1,1190.3 513.7,1184.7ZM528.9,1216.3 555.4,1225.6 566.6,1199.9 540.1,1190.3ZM555.4,1225.6 581.9,1238.9 593.1,1213.6 566.6,1199.9ZM581.9,1238.9 608.5,1256.3 619.7,1231.3 593.1,1213.6ZM608.5,1256.3 635.1,1277.7 646.4,1253.1 619.7,1231.3ZM635.1,1277.7 661.9,1303.2 673.1,1278.9 646.4,1253.1Z"/>
<path d="M282.4,1344.6 308.3,1317.2 319.5,1287.5 293.6,1314.6ZM308.3,1317.2 334.3,1293.8 345.4,1264.5 319.5,1287.5ZM334.3,1293.8 360.3,1274.5 371.4,1245.5 345.4,1264.5ZM360.3,1274.5 386.4,1259.2 397.5,1230.5 371.4,1245.5ZM386.4,1259.2 412.5,1247.9 423.7,1219.6 397.5,1230.5ZM412.5,1247.9 438.7,1240.7 449.9,1212.7 423.7,1219.6ZM438.7,1240.7 465,1237.5 476.1,1209.9 449.9,1212.7ZM465,1237.5 491.3,1238.4 502.5,1211.1 476.1,1209.9ZM491.3,1238.4 517.7,1243.3 528.9,1216.3 502.5,1211.1ZM517.7,1243.3 544.2,1252.2 555.4,1225.6 528.9,1216.3ZM544.2,1252.2 570.7,1265.2 581.9,1238.9 555.4,1225.6ZM570.7,1265.2 597.3,1282.3 608.5,1256.3 581.9,1238.9ZM597.3,1282.3 623.9,1303.4 635.1,1277.7 608.5,1256.3ZM623.9,1303.4 650.7,1328.5 661.9,1303.2 635.1,1277.7Z"/>
<path d="M271.3,1375.6 297.2,1347.8 308.3,1317.2 282.4,1344.6ZM297.2,1347.8 323.1,1324.1 334.3,1293.8 308.3,1317.2ZM323.1,1324.1 349.1,1304.4 360.3,1274.5 334.3,1293.8ZM349.1,1304.4 375.2,1288.8 386.4,1259.2 360.3,1274.5ZM375.2,1288.8 401.3,1277.2 412.5,1247.9 386.4,1259.2ZM401.3,1277.2 427.5,1269.7 438.7,1240.7 412.5,1247.9ZM427.5,1269.7 453.8,1266.1 465,1237.5 438.7,1240.7ZM453.8,1266.1 480.1,1266.7 491.3,1238.4 465,1237.5ZM480.1,1266.7 506.5,1271.3 517.7,1243.3 491.3,1238.4ZM506.5,1271.3 533,1279.9 544.2,1252.2 517.7,1243.3ZM533,1279.9 559.5,1292.5 570.7,1265.2 544.2,1252.2ZM559.5,1292.5 586.1,1309.2 597.3,1282.3 570.7,1265.2ZM586.1,1309.2 612.8,1330 623.9,1303.4 597.3,1282.3ZM612.8,1330 639.5,1354.8 650.7,1328.5 623.9,1303.4Z"/>
<path d="M260.2,1407.6 286.1,1379.5 297.2,1347.8 271.3,1375.6ZM286.1,1379.5 312,1355.4 323.1,1324.1 297.2,1347.8ZM312,1355.4 338,1335.4 349.1,1304.4 323.1,1324.1ZM338,1335.4 364.1,1319.4 375.2,1288.8 349.1,1304.4ZM364.1,1319.4 390.2,1307.5 401.3,1277.2 375.2,1288.8ZM390.2,1307.5 416.4,1299.6 427.5,1269.7 401.3,1277.2ZM416.4,1299.6 442.7,1295.8 453.8,1266.1 427.5,1269.7ZM442.7,1295.8 469,1296 480.1,1266.7 453.8,1266.1ZM469,1296 495.4,1300.2 506.5,1271.3 480.1,1266.7ZM495.4,1300.2 521.8,1308.5 533,1279.9 506.5,1271.3ZM521.8,1308.5 548.4,1320.8 559.5,1292.5 533,1279.9ZM548.4,1320.8 574.9,1337.2 586.1,1309.2 559.5,1292.5ZM574.9,1337.2 601.6,1357.6 612.8,1330 586.1,1309.2ZM601.6,1357.6 628.3,1382 639.5,1354.8 612.8,1330Z"/>
<path d="M249.1,1440.6 275,1412.1 286.1,1379.5 260.2,1407.6ZM275,1412.1 300.9,1387.7 312,1355.4 286.1,1379.5ZM300.9,1387.7 326.9,1367.4 338,1335.4 312,1355.4ZM326.9,1367.4 353,1351.1 364.1,1319.4 338,1335.4ZM353,1351.1 379.1,1338.8 390.2,1307.5 364.1,1319.4ZM379.1,1338.8 405.3,1330.6 416.4,1299.6 390.2,1307.5ZM405.3,1330.6 431.5,1326.4 442.7,1295.8 416.4,1299.6ZM431.5,1326.4 457.9,1326.2 469,1296 442.7,1295.8ZM457.9,1326.2 484.2,1330.1 495.4,1300.2 469,1296ZM484.2,1330.1 510.7,1338.1 521.8,1308.5 495.4,1300.2ZM510.7,1338.1 537.2,1350.1 548.4,1320.8 521.8,1308.5ZM537.2,1350.1 563.8,1366.1 574.9,1337.2 548.4,1320.8ZM563.8,1366.1 590.4,1386.2 601.6,1357.6 574.9,1337.2ZM590.4,1386.2 617.1,1410.3 628.3,1382 601.6,1357.6Z"/>
</g>
<path d="M207.3,1134.1L212.7,1473.6" fill="none" stroke="#000" stroke-width="5.2" stroke-linecap="butt"/>
<path d="M632.9,1557L812.5,1335.4" fill="none" stroke="#000" stroke-width="4" stroke-linecap="square"/>
<path d="M211.7,1472.1L215.7,1472.4L226,1472.4L230,1475.3L240.3,1475.3L244.3,1478.2L254.6,1478.2L258.6,1481.1L268.9,1481.1L272.9,1484L283.2,1484L287.2,1486.9L297.5,1486.9L301.5,1489.8L311.8,1489.8L315.8,1492.7L326.1,1492.7L330.1,1495.6L340.4,1495.6L344.4,1498.5L354.7,1498.5L358.7,1501.4L369,1501.4L373,1504.3L383.3,1504.3L387.3,1507.2L397.6,1507.2L401.6,1510.1L411.9,1510.1L415.9,1513L426.2,1513L430.2,1515.9L440.5,1515.9L444.5,1518.9L454.8,1518.9L458.8,1521.8L469.1,1521.8L473.1,1524.7L483.4,1524.7L487.4,1527.6L497.7,1527.6L501.7,1530.5L512,1530.5L516,1533.4L526.3,1533.4L530.3,1536.3L540.6,1536.3L544.6,1539.2L554.9,1539.2L558.9,1542.1L569.2,1542.1L573.2,1545L583.5,1545L587.5,1547.9L597.8,1547.9L601.8,1550.8L612.1,1550.8L616.1,1553.7L626.4,1553.7L630.4,1556.6L631.9,1556.6L632.9,1557" fill="none" stroke="#000" stroke-width="3.2" stroke-linejoin="round"/>
<path d="M207.8,1163.6h-10M209.2,1250.3h-10M210.6,1338h-10M211.9,1423.4h-10" fill="none" stroke="#000" stroke-width="4.6"/>
<path d="M298.5,1487.9l-4.8,10.5M423.1,1513.3l-4.8,10.5M546.2,1538.3l-4.8,10.5" fill="none" stroke="#000" stroke-width="2.8"/>
<path d="M661.4,1522.8l11,1l-9,-5ZM717.4,1453.7l11,1l-9,-5ZM774.6,1383.2l11,1l-9,-5Z" fill="#000" stroke="#000" stroke-width="1"/>
<text transform="translate(115.3 1165.4) scale(0.8013 1)" font-family='"Liberation Sans", sans-serif' font-size="38.3" font-weight="bold" text-anchor="start" fill="#000" stroke="#000" stroke-width="0.7" stroke-linejoin="round">660</text>
<text transform="translate(116.8 1253.6) scale(0.8386 1)" font-family='"Liberation Sans", sans-serif' font-size="36.7" font-weight="bold" text-anchor="start" fill="#000" stroke="#000" stroke-width="0.7" stroke-linejoin="round">640</text>
<text transform="translate(119.4 1338.7) scale(0.9099 1)" font-family='"Liberation Sans", sans-serif' font-size="34.6" font-weight="bold" text-anchor="start" fill="#000" stroke="#000" stroke-width="0.7" stroke-linejoin="round">620</text>
<text transform="translate(119.4 1423.8) scale(0.8674 1)" font-family='"Liberation Sans", sans-serif' font-size="36.3" font-weight="bold" text-anchor="start" fill="#000" stroke="#000" stroke-width="0.7" stroke-linejoin="round">600</text>
<text transform="translate(28.5 1288.7) scale(0.8360 1)" font-family='"Liberation Sans", sans-serif' font-size="36.3" font-weight="bold" text-anchor="start" fill="#000" stroke="#000" stroke-width="0.7" stroke-linejoin="round">UTS</text>
<text transform="translate(240.6 1541.7) scale(0.8537 1)" font-family='"Liberation Sans", sans-serif' font-size="36.5" font-weight="bold" text-anchor="start" fill="#000" stroke="#000" stroke-width="0.7" stroke-linejoin="round">400</text>
<text transform="translate(366.2 1564.8) scale(0.9094 1)" font-family='"Liberation Sans", sans-serif' font-size="34.5" font-weight="bold" text-anchor="start" fill="#000" stroke="#000" stroke-width="0.7" stroke-linejoin="round">500</text>
<text transform="translate(488.9 1589.2) scale(0.9136 1)" font-family='"Liberation Sans", sans-serif' font-size="34.5" font-weight="bold" text-anchor="start" fill="#000" stroke="#000" stroke-width="0.7" stroke-linejoin="round">600</text>
<text transform="translate(336.4 1608.8) scale(0.7782 1)" font-family='"Liberation Sans", sans-serif' font-size="37.5" font-weight="bold" text-anchor="start" fill="#000" stroke="#000" stroke-width="0.7" stroke-linejoin="round">Sp</text>
<text transform="translate(698.3 1547.1) scale(0.7760 1)" font-family='"Liberation Sans", sans-serif' font-size="36.3" font-weight="bold" text-anchor="start" fill="#000" stroke="#000" stroke-width="0.7" stroke-linejoin="round">10</text>
<text transform="translate(753.8 1476.7) scale(0.7898 1)" font-family='"Liberation Sans", sans-serif' font-size="37" font-weight="bold" text-anchor="start" fill="#000" stroke="#000" stroke-width="0.7" stroke-linejoin="round">15</text>
<text transform="translate(811.4 1407.6) scale(0.8611 1)" font-family='"Liberation Sans", sans-serif' font-size="36.5" font-weight="bold" text-anchor="start" fill="#000" stroke="#000" stroke-width="0.7" stroke-linejoin="round">20</text>
<text transform="translate(831.2 1482.5) scale(0.7949 1)" font-family='"Liberation Sans", sans-serif' font-size="37.5" font-weight="bold" text-anchor="start" fill="#000" stroke="#000" stroke-width="0.7" stroke-linejoin="round">T</text>
</g>
<g id="panel-e">
<path d="M382,1681.1L801.6,1765.1M807.9,2112.6L388.3,2028.6" fill="none" stroke="#a0a0a0" stroke-width="2.2"/>
<path d="M203.7,1906.5L382,1681.1M801.6,1765.1L807.9,2112.6M382,1681.1L388.3,2028.6" fill="none" stroke="#8c8c8c" stroke-width="1.5"/>
<path d="M210,2254L388.3,2028.6" fill="none" stroke="#666" stroke-width="1.2"/>
<g fill="#cc0000" stroke="#fff" stroke-width="2" stroke-linejoin="round">
<path d="M393.4,1866.1 416.5,1840.5 427.7,1820.4 404.6,1845.6ZM416.5,1840.5 439.7,1819.1 450.9,1799.2 427.7,1820.4ZM439.7,1819.1 462.9,1801.7 474.2,1782.2 450.9,1799.2ZM462.9,1801.7 486.2,1788.3 497.5,1769.2 474.2,1782.2ZM486.2,1788.3 509.6,1779.1 520.9,1760.3 497.5,1769.2ZM509.6,1779.1 533.1,1773.9 544.4,1755.4 520.9,1760.3ZM533.1,1773.9 556.7,1772.7 568,1754.6 544.4,1755.4ZM556.7,1772.7 580.3,1775.7 591.6,1757.9 568,1754.6ZM580.3,1775.7 604,1782.7 615.3,1765.3 591.6,1757.9ZM604,1782.7 627.8,1793.8 639.1,1776.7 615.3,1765.3ZM627.8,1793.8 651.6,1809 662.9,1792.2 639.1,1776.7ZM651.6,1809 675.5,1828.2 686.9,1811.8 662.9,1792.2ZM675.5,1828.2 699.5,1851.5 710.9,1835.4 686.9,1811.8ZM699.5,1851.5 723.6,1878.9 734.9,1863.2 710.9,1835.4Z"/>
<path d="M382.1,1887.5 405.2,1861.6 416.5,1840.5 393.4,1866.1ZM405.2,1861.6 428.4,1839.8 439.7,1819.1 416.5,1840.5ZM428.4,1839.8 451.7,1822.1 462.9,1801.7 439.7,1819.1ZM451.7,1822.1 475,1808.4 486.2,1788.3 462.9,1801.7ZM475,1808.4 498.4,1798.8 509.6,1779.1 486.2,1788.3ZM498.4,1798.8 521.9,1793.3 533.1,1773.9 509.6,1779.1ZM521.9,1793.3 545.4,1791.8 556.7,1772.7 533.1,1773.9ZM545.4,1791.8 569,1794.4 580.3,1775.7 556.7,1772.7ZM569,1794.4 592.7,1801.1 604,1782.7 580.3,1775.7ZM592.7,1801.1 616.5,1811.8 627.8,1793.8 604,1782.7ZM616.5,1811.8 640.3,1826.6 651.6,1809 627.8,1793.8ZM640.3,1826.6 664.2,1845.5 675.5,1828.2 651.6,1809ZM664.2,1845.5 688.2,1868.5 699.5,1851.5 675.5,1828.2ZM688.2,1868.5 712.3,1895.5 723.6,1878.9 699.5,1851.5Z"/>
<path d="M370.9,1909.9 394,1883.7 405.2,1861.6 382.1,1887.5ZM394,1883.7 417.2,1861.5 428.4,1839.8 405.2,1861.6ZM417.2,1861.5 440.4,1843.4 451.7,1822.1 428.4,1839.8ZM440.4,1843.4 463.8,1829.4 475,1808.4 451.7,1822.1ZM463.8,1829.4 487.1,1819.5 498.4,1798.8 475,1808.4ZM487.1,1819.5 510.6,1813.6 521.9,1793.3 498.4,1798.8ZM510.6,1813.6 534.2,1811.8 545.4,1791.8 521.9,1793.3ZM534.2,1811.8 557.8,1814 569,1794.4 545.4,1791.8ZM557.8,1814 581.5,1820.4 592.7,1801.1 569,1794.4ZM581.5,1820.4 605.2,1830.8 616.5,1811.8 592.7,1801.1ZM605.2,1830.8 629,1845.2 640.3,1826.6 616.5,1811.8ZM629,1845.2 653,1863.8 664.2,1845.5 640.3,1826.6ZM653,1863.8 676.9,1886.4 688.2,1868.5 664.2,1845.5ZM676.9,1886.4 701,1913.1 712.3,1895.5 688.2,1868.5Z"/>
<path d="M359.7,1933.2 382.8,1906.7 394,1883.7 370.9,1909.9ZM382.8,1906.7 406,1884.2 417.2,1861.5 394,1883.7ZM406,1884.2 429.2,1865.7 440.4,1843.4 417.2,1861.5ZM429.2,1865.7 452.5,1851.4 463.8,1829.4 440.4,1843.4ZM452.5,1851.4 475.9,1841.1 487.1,1819.5 463.8,1829.4ZM475.9,1841.1 499.4,1834.9 510.6,1813.6 487.1,1819.5ZM499.4,1834.9 522.9,1832.7 534.2,1811.8 510.6,1813.6ZM522.9,1832.7 546.5,1834.6 557.8,1814 534.2,1811.8ZM546.5,1834.6 570.2,1840.6 581.5,1820.4 557.8,1814ZM570.2,1840.6 594,1850.7 605.2,1830.8 581.5,1820.4ZM594,1850.7 617.8,1864.8 629,1845.2 605.2,1830.8ZM617.8,1864.8 641.7,1883 653,1863.8 629,1845.2ZM641.7,1883 665.7,1905.3 676.9,1886.4 653,1863.8ZM665.7,1905.3 689.7,1931.6 701,1913.1 676.9,1886.4Z"/>
<path d="M348.6,1957.5 371.6,1930.6 382.8,1906.7 359.7,1933.2ZM371.6,1930.6 394.8,1907.7 406,1884.2 382.8,1906.7ZM394.8,1907.7 418,1889 429.2,1865.7 406,1884.2ZM418,1889 441.3,1874.3 452.5,1851.4 429.2,1865.7ZM441.3,1874.3 464.7,1863.6 475.9,1841.1 452.5,1851.4ZM464.7,1863.6 488.2,1857.1 499.4,1834.9 475.9,1841.1ZM488.2,1857.1 511.7,1854.6 522.9,1832.7 499.4,1834.9ZM511.7,1854.6 535.3,1856.1 546.5,1834.6 522.9,1832.7ZM535.3,1856.1 559,1861.8 570.2,1840.6 546.5,1834.6ZM559,1861.8 582.7,1871.5 594,1850.7 570.2,1840.6ZM582.7,1871.5 606.5,1885.3 617.8,1864.8 594,1850.7ZM606.5,1885.3 630.4,1903.2 641.7,1883 617.8,1864.8ZM630.4,1903.2 654.4,1925.1 665.7,1905.3 641.7,1883ZM654.4,1925.1 678.5,1951.1 689.7,1931.6 665.7,1905.3Z"/>
<path d="M337.4,1982.7 360.5,1955.5 371.6,1930.6 348.6,1957.5ZM360.5,1955.5 383.6,1932.3 394.8,1907.7 371.6,1930.6ZM383.6,1932.3 406.9,1913.1 418,1889 394.8,1907.7ZM406.9,1913.1 430.2,1898.1 441.3,1874.3 418,1889ZM430.2,1898.1 453.5,1887.1 464.7,1863.6 441.3,1874.3ZM453.5,1887.1 477,1880.2 488.2,1857.1 464.7,1863.6ZM477,1880.2 500.5,1877.4 511.7,1854.6 488.2,1857.1ZM500.5,1877.4 524.1,1878.6 535.3,1856.1 511.7,1854.6ZM524.1,1878.6 547.8,1883.9 559,1861.8 535.3,1856.1ZM547.8,1883.9 571.5,1893.3 582.7,1871.5 559,1861.8ZM571.5,1893.3 595.3,1906.7 606.5,1885.3 582.7,1871.5ZM595.3,1906.7 619.2,1924.2 630.4,1903.2 606.5,1885.3ZM619.2,1924.2 643.2,1945.8 654.4,1925.1 630.4,1903.2ZM643.2,1945.8 667.2,1971.5 678.5,1951.1 654.4,1925.1Z"/>
<path d="M326.3,2008.9 349.3,1981.2 360.5,1955.5 337.4,1982.7ZM349.3,1981.2 372.5,1957.7 383.6,1932.3 360.5,1955.5ZM372.5,1957.7 395.7,1938.2 406.9,1913.1 383.6,1932.3ZM395.7,1938.2 419,1922.9 430.2,1898.1 406.9,1913.1ZM419,1922.9 442.4,1911.5 453.5,1887.1 430.2,1898.1ZM442.4,1911.5 465.8,1904.3 477,1880.2 453.5,1887.1ZM465.8,1904.3 489.3,1901.1 500.5,1877.4 477,1880.2ZM489.3,1901.1 512.9,1902 524.1,1878.6 500.5,1877.4ZM512.9,1902 536.6,1907 547.8,1883.9 524.1,1878.6ZM536.6,1907 560.3,1916 571.5,1893.3 547.8,1883.9ZM560.3,1916 584.1,1929.1 595.3,1906.7 571.5,1893.3ZM584.1,1929.1 608,1946.3 619.2,1924.2 595.3,1906.7ZM608,1946.3 631.9,1967.5 643.2,1945.8 619.2,1924.2ZM631.9,1967.5 656,1992.8 667.2,1971.5 643.2,1945.8Z"/>
<path d="M315.1,2035.9 338.2,2008 349.3,1981.2 326.3,2008.9ZM338.2,2008 361.3,1984.1 372.5,1957.7 349.3,1981.2ZM361.3,1984.1 384.5,1964.3 395.7,1938.2 372.5,1957.7ZM384.5,1964.3 407.8,1948.6 419,1922.9 395.7,1938.2ZM407.8,1948.6 431.2,1936.9 442.4,1911.5 419,1922.9ZM431.2,1936.9 454.6,1929.3 465.8,1904.3 442.4,1911.5ZM454.6,1929.3 478.1,1925.8 489.3,1901.1 465.8,1904.3ZM478.1,1925.8 501.7,1926.3 512.9,1902 489.3,1901.1ZM501.7,1926.3 525.4,1930.9 536.6,1907 512.9,1902ZM525.4,1930.9 549.1,1939.6 560.3,1916 536.6,1907ZM549.1,1939.6 572.9,1952.4 584.1,1929.1 560.3,1916ZM572.9,1952.4 596.8,1969.2 608,1946.3 584.1,1929.1ZM596.8,1969.2 620.7,1990.1 631.9,1967.5 608,1946.3ZM620.7,1990.1 644.8,2015.1 656,1992.8 631.9,1967.5Z"/>
<path d="M304,2063.9 327.1,2035.7 338.2,2008 315.1,2035.9ZM327.1,2035.7 350.2,2011.4 361.3,1984.1 338.2,2008ZM350.2,2011.4 373.4,1991.3 384.5,1964.3 361.3,1984.1ZM373.4,1991.3 396.7,1975.2 407.8,1948.6 384.5,1964.3ZM396.7,1975.2 420.1,1963.2 431.2,1936.9 407.8,1948.6ZM420.1,1963.2 443.5,1955.3 454.6,1929.3 431.2,1936.9ZM443.5,1955.3 467,1951.4 478.1,1925.8 454.6,1929.3ZM467,1951.4 490.6,1951.6 501.7,1926.3 478.1,1925.8ZM490.6,1951.6 514.2,1955.9 525.4,1930.9 501.7,1926.3ZM514.2,1955.9 537.9,1964.2 549.1,1939.6 525.4,1930.9ZM537.9,1964.2 561.7,1976.6 572.9,1952.4 549.1,1939.6ZM561.7,1976.6 585.6,1993.1 596.8,1969.2 572.9,1952.4ZM585.6,1993.1 609.6,2013.7 620.7,1990.1 596.8,1969.2ZM609.6,2013.7 633.6,2038.3 644.8,2015.1 620.7,1990.1Z"/>
<path d="M292.9,2092.9 316,2064.3 327.1,2035.7 304,2063.9ZM316,2064.3 339.1,2039.7 350.2,2011.4 327.1,2035.7ZM339.1,2039.7 362.3,2019.2 373.4,1991.3 350.2,2011.4ZM362.3,2019.2 385.6,2002.8 396.7,1975.2 373.4,1991.3ZM385.6,2002.8 408.9,1990.4 420.1,1963.2 396.7,1975.2ZM408.9,1990.4 432.4,1982.2 443.5,1955.3 420.1,1963.2ZM432.4,1982.2 455.9,1977.9 467,1951.4 443.5,1955.3ZM455.9,1977.9 479.4,1977.8 490.6,1951.6 467,1951.4ZM479.4,1977.8 503.1,1981.7 514.2,1955.9 490.6,1951.6ZM503.1,1981.7 526.8,1989.7 537.9,1964.2 514.2,1955.9ZM526.8,1989.7 550.6,2001.8 561.7,1976.6 537.9,1964.2ZM550.6,2001.8 574.4,2018 585.6,1993.1 561.7,1976.6ZM574.4,2018 598.4,2038.2 609.6,2013.7 585.6,1993.1ZM598.4,2038.2 622.4,2062.5 633.6,2038.3 609.6,2013.7Z"/>
<path d="M281.9,2122.8 304.9,2093.8 316,2064.3 292.9,2092.9ZM304.9,2093.8 328,2068.9 339.1,2039.7 316,2064.3ZM328,2068.9 351.2,2048.1 362.3,2019.2 339.1,2039.7ZM351.2,2048.1 374.5,2031.3 385.6,2002.8 362.3,2019.2ZM374.5,2031.3 397.8,2018.6 408.9,1990.4 385.6,2002.8ZM397.8,2018.6 421.2,2010 432.4,1982.2 408.9,1990.4ZM421.2,2010 444.7,2005.4 455.9,1977.9 432.4,1982.2ZM444.7,2005.4 468.3,2005 479.4,1977.8 455.9,1977.9ZM468.3,2005 491.9,2008.5 503.1,1981.7 479.4,1977.8ZM491.9,2008.5 515.6,2016.2 526.8,1989.7 503.1,1981.7ZM515.6,2016.2 539.4,2027.9 550.6,2001.8 526.8,1989.7ZM539.4,2027.9 563.3,2043.7 574.4,2018 550.6,2001.8ZM563.3,2043.7 587.2,2063.6 598.4,2038.2 574.4,2018ZM587.2,2063.6 611.2,2087.5 622.4,2062.5 598.4,2038.2Z"/>
<path d="M270.8,2153.6 293.8,2124.3 304.9,2093.8 281.9,2122.8ZM293.8,2124.3 317,2099 328,2068.9 304.9,2093.8ZM317,2099 340.1,2077.9 351.2,2048.1 328,2068.9ZM340.1,2077.9 363.4,2060.8 374.5,2031.3 351.2,2048.1ZM363.4,2060.8 386.7,2047.7 397.8,2018.6 374.5,2031.3ZM386.7,2047.7 410.2,2038.8 421.2,2010 397.8,2018.6ZM410.2,2038.8 433.6,2033.9 444.7,2005.4 421.2,2010ZM433.6,2033.9 457.2,2033 468.3,2005 444.7,2005.4ZM457.2,2033 480.8,2036.3 491.9,2008.5 468.3,2005ZM480.8,2036.3 504.5,2043.6 515.6,2016.2 491.9,2008.5ZM504.5,2043.6 528.3,2055 539.4,2027.9 515.6,2016.2ZM528.3,2055 552.2,2070.4 563.3,2043.7 539.4,2027.9ZM552.2,2070.4 576.1,2090 587.2,2063.6 563.3,2043.7ZM576.1,2090 600.1,2113.6 611.2,2087.5 587.2,2063.6Z"/>
<path d="M259.8,2185.4 282.8,2155.7 293.8,2124.3 270.8,2153.6ZM282.8,2155.7 305.9,2130.1 317,2099 293.8,2124.3ZM305.9,2130.1 329.1,2108.6 340.1,2077.9 317,2099ZM329.1,2108.6 352.3,2091.2 363.4,2060.8 340.1,2077.9ZM352.3,2091.2 375.7,2077.8 386.7,2047.7 363.4,2060.8ZM375.7,2077.8 399.1,2068.5 410.2,2038.8 386.7,2047.7ZM399.1,2068.5 422.6,2063.2 433.6,2033.9 410.2,2038.8ZM422.6,2063.2 446.1,2062.1 457.2,2033 433.6,2033.9ZM446.1,2062.1 469.7,2065 480.8,2036.3 457.2,2033ZM469.7,2065 493.4,2071.9 504.5,2043.6 480.8,2036.3ZM493.4,2071.9 517.2,2083 528.3,2055 504.5,2043.6ZM517.2,2083 541,2098.1 552.2,2070.4 528.3,2055ZM541,2098.1 565,2117.3 576.1,2090 552.2,2070.4ZM565,2117.3 589,2140.5 600.1,2113.6 576.1,2090Z"/>
<path d="M248.7,2218.1 271.8,2188.1 282.8,2155.7 259.8,2185.4ZM271.8,2188.1 294.9,2162.1 305.9,2130.1 282.8,2155.7ZM294.9,2162.1 318,2140.3 329.1,2108.6 305.9,2130.1ZM318,2140.3 341.3,2122.5 352.3,2091.2 329.1,2108.6ZM341.3,2122.5 364.6,2108.8 375.7,2077.8 352.3,2091.2ZM364.6,2108.8 388,2099.1 399.1,2068.5 375.7,2077.8ZM388,2099.1 411.5,2093.5 422.6,2063.2 399.1,2068.5ZM411.5,2093.5 435,2092 446.1,2062.1 422.6,2063.2ZM435,2092 458.6,2094.6 469.7,2065 446.1,2062.1ZM458.6,2094.6 482.3,2101.2 493.4,2071.9 469.7,2065ZM482.3,2101.2 506.1,2111.9 517.2,2083 493.4,2071.9ZM506.1,2111.9 529.9,2126.7 541,2098.1 517.2,2083ZM529.9,2126.7 553.9,2145.5 565,2117.3 541,2098.1ZM553.9,2145.5 577.8,2168.4 589,2140.5 565,2117.3Z"/>
</g>
<path d="M203.7,1906.5L210,2256" fill="none" stroke="#000" stroke-width="5.2" stroke-linecap="butt"/>
<path d="M629.6,2338L807.9,2112.6" fill="none" stroke="#000" stroke-width="4" stroke-linecap="square"/>
<path d="M209,2254.5L213,2254.7L223.3,2254.7L227.3,2257.6L237.6,2257.6L241.6,2260.5L251.9,2260.5L255.9,2263.3L266.2,2263.3L270.2,2266.2L280.5,2266.2L284.5,2269L294.8,2269L298.8,2271.9L309.1,2271.9L313.1,2274.8L323.4,2274.8L327.4,2277.6L337.7,2277.6L341.7,2280.5L352,2280.5L356,2283.4L366.3,2283.4L370.3,2286.2L380.6,2286.2L384.6,2289.1L394.9,2289.1L398.9,2291.9L409.2,2291.9L413.2,2294.8L423.5,2294.8L427.5,2297.7L437.8,2297.7L441.8,2300.5L452.1,2300.5L456.1,2303.4L466.4,2303.4L470.4,2306.3L480.7,2306.3L484.7,2309.1L495,2309.1L499,2312L509.3,2312L513.3,2314.8L523.6,2314.8L527.6,2317.7L537.9,2317.7L541.9,2320.6L552.2,2320.6L556.2,2323.4L566.5,2323.4L570.5,2326.3L580.8,2326.3L584.8,2329.2L595.1,2329.2L599.1,2332L609.4,2332L613.4,2334.9L623.7,2334.9L627.7,2337.8L628.6,2337.8L629.6,2338" fill="none" stroke="#000" stroke-width="3.2" stroke-linejoin="round"/>
<path d="M204.3,1938.2h-10M205.8,2022.2h-10M207.3,2105.5h-10M208.8,2189h-10" fill="none" stroke="#000" stroke-width="4.6"/>
<path d="M213.2,2253.5l-4.8,10.5M348.6,2280.6l-4.8,10.5M485.2,2308l-4.8,10.5M622,2335.4l-4.8,10.5" fill="none" stroke="#000" stroke-width="2.8"/>
<path d="M657.8,2303.3l11,1l-9,-5ZM713.6,2232.8l11,1l-9,-5ZM769.9,2161.6l11,1l-9,-5Z" fill="#000" stroke="#000" stroke-width="1"/>
<text transform="translate(112.6 1938.7) scale(0.7822 1)" font-family='"Liberation Sans", sans-serif' font-size="40.3" font-weight="bold" text-anchor="start" fill="#000" stroke="#000" stroke-width="0.7" stroke-linejoin="round">660</text>
<text transform="translate(114.8 2022.6) scale(0.8075 1)" font-family='"Liberation Sans", sans-serif' font-size="38.2" font-weight="bold" text-anchor="start" fill="#000" stroke="#000" stroke-width="0.7" stroke-linejoin="round">640</text>
<text transform="translate(118 2104.6) scale(0.8449 1)" font-family='"Liberation Sans", sans-serif' font-size="36.3" font-weight="bold" text-anchor="start" fill="#000" stroke="#000" stroke-width="0.7" stroke-linejoin="round">620</text>
<text transform="translate(118 2188.1) scale(0.8617 1)" font-family='"Liberation Sans", sans-serif' font-size="35.6" font-weight="bold" text-anchor="start" fill="#000" stroke="#000" stroke-width="0.7" stroke-linejoin="round">600</text>
<text transform="translate(26.6 2064.6) scale(0.7847 1)" font-family='"Liberation Sans", sans-serif' font-size="38.2" font-weight="bold" text-anchor="start" fill="#000" stroke="#000" stroke-width="0.7" stroke-linejoin="round">UTS</text>
<text transform="translate(160 2306.5) scale(0.8416 1)" font-family='"Liberation Sans", sans-serif' font-size="36.5" font-weight="bold" text-anchor="start" fill="#000" stroke="#000" stroke-width="0.7" stroke-linejoin="round">640</text>
<text transform="translate(295.4 2333.6) scale(0.8426 1)" font-family='"Liberation Sans", sans-serif' font-size="36.5" font-weight="bold" text-anchor="start" fill="#000" stroke="#000" stroke-width="0.7" stroke-linejoin="round">720</text>
<text transform="translate(429 2359.4) scale(0.8962 1)" font-family='"Liberation Sans", sans-serif' font-size="34.5" font-weight="bold" text-anchor="start" fill="#000" stroke="#000" stroke-width="0.7" stroke-linejoin="round">800</text>
<text transform="translate(565 2386.5) scale(0.8871 1)" font-family='"Liberation Sans", sans-serif' font-size="34.5" font-weight="bold" text-anchor="start" fill="#000" stroke="#000" stroke-width="0.7" stroke-linejoin="round">880</text>
<text transform="translate(330.2 2389.5) scale(0.8377 1)" font-family='"Liberation Sans", sans-serif' font-size="37.4" font-weight="bold" text-anchor="start" fill="#000" stroke="#000" stroke-width="0.7" stroke-linejoin="round">Tm</text>
<text transform="translate(694.2 2328.1) scale(0.7787 1)" font-family='"Liberation Sans", sans-serif' font-size="36.3" font-weight="bold" text-anchor="start" fill="#000" stroke="#000" stroke-width="0.7" stroke-linejoin="round">10</text>
<text transform="translate(751.2 2256.3) scale(0.7583 1)" font-family='"Liberation Sans", sans-serif' font-size="36.8" font-weight="bold" text-anchor="start" fill="#000" stroke="#000" stroke-width="0.7" stroke-linejoin="round">15</text>
<text transform="translate(807.4 2185.9) scale(0.8272 1)" font-family='"Liberation Sans", sans-serif' font-size="36.3" font-weight="bold" text-anchor="start" fill="#000" stroke="#000" stroke-width="0.7" stroke-linejoin="round">20</text>
<text transform="translate(827.1 2263.5) scale(0.7980 1)" font-family='"Liberation Sans", sans-serif' font-size="37.4" font-weight="bold" text-anchor="start" fill="#000" stroke="#000" stroke-width="0.7" stroke-linejoin="round">T</text>
</g>
</svg>
</body></html>
